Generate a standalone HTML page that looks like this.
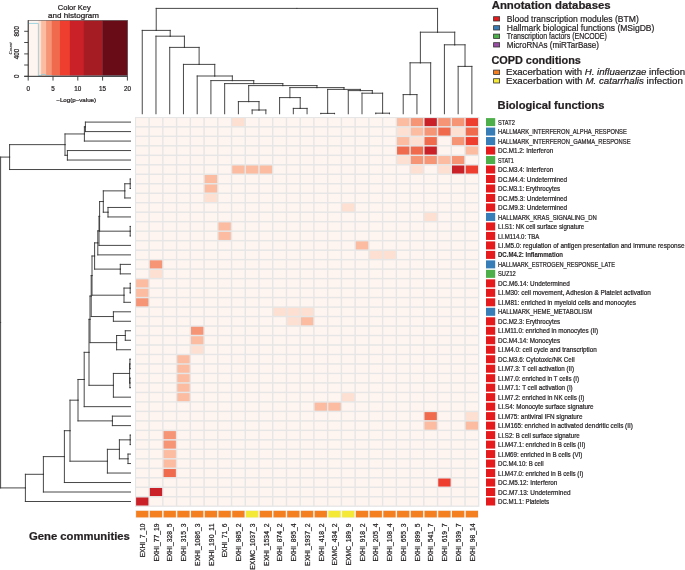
<!DOCTYPE html>
<html><head><meta charset="utf-8"><title>Heatmap</title>
<style>
html,body{margin:0;padding:0;background:#fff;}
svg{display:block;will-change:transform;}
text{font-family:"Liberation Sans", sans-serif;stroke:#231F20;stroke-width:0.22px;paint-order:stroke;}
</style></head>
<body>
<svg width="685" height="570" viewBox="0 0 685 570" font-family='"Liberation Sans", sans-serif'>
<rect width="685" height="570" fill="#fff"/>
<rect x="28.20" y="20.3" width="10.47" height="56.00" fill="#FFF5F0"/>
<rect x="38.37" y="20.3" width="3.03" height="56.00" fill="#FDE0D2"/>
<rect x="41.10" y="20.3" width="5.26" height="56.00" fill="#FBBCA2"/>
<rect x="46.06" y="20.3" width="6.00" height="56.00" fill="#F69476"/>
<rect x="51.76" y="20.3" width="8.48" height="56.00" fill="#F06B4D"/>
<rect x="59.94" y="20.3" width="10.22" height="56.00" fill="#EE3E2F"/>
<rect x="69.86" y="20.3" width="14.19" height="56.00" fill="#CA2027"/>
<rect x="83.75" y="20.3" width="18.75" height="56.00" fill="#A51D23"/>
<rect x="102.20" y="20.3" width="25.50" height="56.00" fill="#6A0C17"/>
<rect x="28.2" y="20.3" width="99.20" height="56.00" fill="none" stroke="#555" stroke-width="0.6"/>
<polyline points="28.50,23.4 38.37,23.4 38.37,75.6 41.59,75.6 41.59,74.4 45.56,74.4 45.56,75.6 51.02,75.6 51.02,76.0 127.40,76.0" fill="none" stroke="#8DCEDC" stroke-width="0.85"/>
<line x1="28.2" y1="20.3" x2="28.2" y2="76.3" stroke="#333333" stroke-width="0.9"/>
<line x1="24.2" y1="76.3" x2="127.4" y2="76.3" stroke="#333333" stroke-width="0.9"/>
<line x1="24.2" y1="76.3" x2="28.2" y2="76.3" stroke="#333333" stroke-width="0.9"/>
<line x1="24.2" y1="65.0" x2="28.2" y2="65.0" stroke="#333333" stroke-width="0.9"/>
<line x1="24.2" y1="53.9" x2="28.2" y2="53.9" stroke="#333333" stroke-width="0.9"/>
<line x1="24.2" y1="42.5" x2="28.2" y2="42.5" stroke="#333333" stroke-width="0.9"/>
<line x1="24.2" y1="31.3" x2="28.2" y2="31.3" stroke="#333333" stroke-width="0.9"/>
<line x1="28.20" y1="76.3" x2="28.20" y2="80.6" stroke="#333333" stroke-width="0.9"/>
<text x="28.20" y="91" font-size="6.3" text-anchor="middle" fill="#231F20">0</text>
<line x1="53.00" y1="76.3" x2="53.00" y2="80.6" stroke="#333333" stroke-width="0.9"/>
<text x="53.00" y="91" font-size="6.3" text-anchor="middle" fill="#231F20">5</text>
<line x1="77.80" y1="76.3" x2="77.80" y2="80.6" stroke="#333333" stroke-width="0.9"/>
<text x="77.80" y="91" font-size="6.3" text-anchor="middle" fill="#231F20">10</text>
<line x1="102.60" y1="76.3" x2="102.60" y2="80.6" stroke="#333333" stroke-width="0.9"/>
<text x="102.60" y="91" font-size="6.3" text-anchor="middle" fill="#231F20">15</text>
<line x1="127.40" y1="76.3" x2="127.40" y2="80.6" stroke="#333333" stroke-width="0.9"/>
<text x="127.40" y="91" font-size="6.3" text-anchor="middle" fill="#231F20">20</text>
<text transform="translate(19.0,76.3) rotate(-90)" font-size="6.3" text-anchor="middle" fill="#231F20">0</text>
<text transform="translate(19.0,53.9) rotate(-90)" font-size="6.3" text-anchor="middle" fill="#231F20">400</text>
<text transform="translate(19.0,31.3) rotate(-90)" font-size="6.3" text-anchor="middle" fill="#231F20">800</text>
<text transform="translate(11.7,48.4) rotate(-90)" font-size="4.3" font-style="italic" text-anchor="middle" fill="#231F20" style="stroke-width:0.1px" textLength="12" lengthAdjust="spacingAndGlyphs">Count</text>
<text x="74.3" y="10.3" font-size="6.6" text-anchor="middle" fill="#231F20" textLength="33" lengthAdjust="spacingAndGlyphs">Color Key</text>
<text x="73.5" y="17.5" font-size="6.6" text-anchor="middle" fill="#231F20" textLength="51" lengthAdjust="spacingAndGlyphs">and histogram</text>
<text x="76.2" y="101.7" font-size="5.8" text-anchor="middle" fill="#231F20" textLength="39.8" lengthAdjust="spacingAndGlyphs">−Log(p−value)</text>
<rect x="135.0" y="117.0" width="344.38" height="389.88" fill="#E6E6E6"/>
<rect x="136.10" y="118.10" width="12.3" height="8.0" fill="#FFF5F0"/>
<rect x="149.83" y="118.10" width="12.3" height="8.0" fill="#FFF5F0"/>
<rect x="163.57" y="118.10" width="12.3" height="8.0" fill="#FFF5F0"/>
<rect x="177.31" y="118.10" width="12.3" height="8.0" fill="#FFF5F0"/>
<rect x="191.04" y="118.10" width="12.3" height="8.0" fill="#FFF5F0"/>
<rect x="204.77" y="118.10" width="12.3" height="8.0" fill="#FFF5F0"/>
<rect x="218.51" y="118.10" width="12.3" height="8.0" fill="#FFF5F0"/>
<rect x="232.25" y="118.10" width="12.3" height="8.0" fill="#FDE0D2"/>
<rect x="245.98" y="118.10" width="12.3" height="8.0" fill="#FFF5F0"/>
<rect x="259.71" y="118.10" width="12.3" height="8.0" fill="#FFF5F0"/>
<rect x="273.45" y="118.10" width="12.3" height="8.0" fill="#FFF5F0"/>
<rect x="287.18" y="118.10" width="12.3" height="8.0" fill="#FFF5F0"/>
<rect x="300.92" y="118.10" width="12.3" height="8.0" fill="#FFF5F0"/>
<rect x="314.65" y="118.10" width="12.3" height="8.0" fill="#FFF5F0"/>
<rect x="328.39" y="118.10" width="12.3" height="8.0" fill="#FFF5F0"/>
<rect x="342.12" y="118.10" width="12.3" height="8.0" fill="#FFF5F0"/>
<rect x="355.86" y="118.10" width="12.3" height="8.0" fill="#FFF5F0"/>
<rect x="369.60" y="118.10" width="12.3" height="8.0" fill="#FFF5F0"/>
<rect x="383.33" y="118.10" width="12.3" height="8.0" fill="#FFF5F0"/>
<rect x="397.06" y="118.10" width="12.3" height="8.0" fill="#FBBCA2"/>
<rect x="410.80" y="118.10" width="12.3" height="8.0" fill="#F69476"/>
<rect x="424.53" y="118.10" width="12.3" height="8.0" fill="#CA2027"/>
<rect x="438.27" y="118.10" width="12.3" height="8.0" fill="#F69476"/>
<rect x="452.00" y="118.10" width="12.3" height="8.0" fill="#F69476"/>
<rect x="465.74" y="118.10" width="12.3" height="8.0" fill="#EE3E2F"/>
<rect x="136.10" y="127.58" width="12.3" height="8.0" fill="#FFF5F0"/>
<rect x="149.83" y="127.58" width="12.3" height="8.0" fill="#FFF5F0"/>
<rect x="163.57" y="127.58" width="12.3" height="8.0" fill="#FFF5F0"/>
<rect x="177.31" y="127.58" width="12.3" height="8.0" fill="#FFF5F0"/>
<rect x="191.04" y="127.58" width="12.3" height="8.0" fill="#FFF5F0"/>
<rect x="204.77" y="127.58" width="12.3" height="8.0" fill="#FFF5F0"/>
<rect x="218.51" y="127.58" width="12.3" height="8.0" fill="#FFF5F0"/>
<rect x="232.25" y="127.58" width="12.3" height="8.0" fill="#FFF5F0"/>
<rect x="245.98" y="127.58" width="12.3" height="8.0" fill="#FFF5F0"/>
<rect x="259.71" y="127.58" width="12.3" height="8.0" fill="#FFF5F0"/>
<rect x="273.45" y="127.58" width="12.3" height="8.0" fill="#FFF5F0"/>
<rect x="287.18" y="127.58" width="12.3" height="8.0" fill="#FFF5F0"/>
<rect x="300.92" y="127.58" width="12.3" height="8.0" fill="#FFF5F0"/>
<rect x="314.65" y="127.58" width="12.3" height="8.0" fill="#FFF5F0"/>
<rect x="328.39" y="127.58" width="12.3" height="8.0" fill="#FFF5F0"/>
<rect x="342.12" y="127.58" width="12.3" height="8.0" fill="#FFF5F0"/>
<rect x="355.86" y="127.58" width="12.3" height="8.0" fill="#FFF5F0"/>
<rect x="369.60" y="127.58" width="12.3" height="8.0" fill="#FFF5F0"/>
<rect x="383.33" y="127.58" width="12.3" height="8.0" fill="#FFF5F0"/>
<rect x="397.06" y="127.58" width="12.3" height="8.0" fill="#FDE0D2"/>
<rect x="410.80" y="127.58" width="12.3" height="8.0" fill="#FBBCA2"/>
<rect x="424.53" y="127.58" width="12.3" height="8.0" fill="#F69476"/>
<rect x="438.27" y="127.58" width="12.3" height="8.0" fill="#F06B4D"/>
<rect x="452.00" y="127.58" width="12.3" height="8.0" fill="#FDE0D2"/>
<rect x="465.74" y="127.58" width="12.3" height="8.0" fill="#F06B4D"/>
<rect x="136.10" y="137.07" width="12.3" height="8.0" fill="#FFF5F0"/>
<rect x="149.83" y="137.07" width="12.3" height="8.0" fill="#FFF5F0"/>
<rect x="163.57" y="137.07" width="12.3" height="8.0" fill="#FFF5F0"/>
<rect x="177.31" y="137.07" width="12.3" height="8.0" fill="#FFF5F0"/>
<rect x="191.04" y="137.07" width="12.3" height="8.0" fill="#FFF5F0"/>
<rect x="204.77" y="137.07" width="12.3" height="8.0" fill="#FFF5F0"/>
<rect x="218.51" y="137.07" width="12.3" height="8.0" fill="#FFF5F0"/>
<rect x="232.25" y="137.07" width="12.3" height="8.0" fill="#FFF5F0"/>
<rect x="245.98" y="137.07" width="12.3" height="8.0" fill="#FFF5F0"/>
<rect x="259.71" y="137.07" width="12.3" height="8.0" fill="#FFF5F0"/>
<rect x="273.45" y="137.07" width="12.3" height="8.0" fill="#FFF5F0"/>
<rect x="287.18" y="137.07" width="12.3" height="8.0" fill="#FFF5F0"/>
<rect x="300.92" y="137.07" width="12.3" height="8.0" fill="#FFF5F0"/>
<rect x="314.65" y="137.07" width="12.3" height="8.0" fill="#FFF5F0"/>
<rect x="328.39" y="137.07" width="12.3" height="8.0" fill="#FFF5F0"/>
<rect x="342.12" y="137.07" width="12.3" height="8.0" fill="#FFF5F0"/>
<rect x="355.86" y="137.07" width="12.3" height="8.0" fill="#FFF5F0"/>
<rect x="369.60" y="137.07" width="12.3" height="8.0" fill="#FFF5F0"/>
<rect x="383.33" y="137.07" width="12.3" height="8.0" fill="#FFF5F0"/>
<rect x="397.06" y="137.07" width="12.3" height="8.0" fill="#FBBCA2"/>
<rect x="410.80" y="137.07" width="12.3" height="8.0" fill="#FDE0D2"/>
<rect x="424.53" y="137.07" width="12.3" height="8.0" fill="#F06B4D"/>
<rect x="438.27" y="137.07" width="12.3" height="8.0" fill="#FFF5F0"/>
<rect x="452.00" y="137.07" width="12.3" height="8.0" fill="#F69476"/>
<rect x="465.74" y="137.07" width="12.3" height="8.0" fill="#EE3E2F"/>
<rect x="136.10" y="146.56" width="12.3" height="8.0" fill="#FFF5F0"/>
<rect x="149.83" y="146.56" width="12.3" height="8.0" fill="#FFF5F0"/>
<rect x="163.57" y="146.56" width="12.3" height="8.0" fill="#FFF5F0"/>
<rect x="177.31" y="146.56" width="12.3" height="8.0" fill="#FFF5F0"/>
<rect x="191.04" y="146.56" width="12.3" height="8.0" fill="#FFF5F0"/>
<rect x="204.77" y="146.56" width="12.3" height="8.0" fill="#FFF5F0"/>
<rect x="218.51" y="146.56" width="12.3" height="8.0" fill="#FFF5F0"/>
<rect x="232.25" y="146.56" width="12.3" height="8.0" fill="#FFF5F0"/>
<rect x="245.98" y="146.56" width="12.3" height="8.0" fill="#FFF5F0"/>
<rect x="259.71" y="146.56" width="12.3" height="8.0" fill="#FFF5F0"/>
<rect x="273.45" y="146.56" width="12.3" height="8.0" fill="#FFF5F0"/>
<rect x="287.18" y="146.56" width="12.3" height="8.0" fill="#FFF5F0"/>
<rect x="300.92" y="146.56" width="12.3" height="8.0" fill="#FFF5F0"/>
<rect x="314.65" y="146.56" width="12.3" height="8.0" fill="#FFF5F0"/>
<rect x="328.39" y="146.56" width="12.3" height="8.0" fill="#FFF5F0"/>
<rect x="342.12" y="146.56" width="12.3" height="8.0" fill="#FFF5F0"/>
<rect x="355.86" y="146.56" width="12.3" height="8.0" fill="#FFF5F0"/>
<rect x="369.60" y="146.56" width="12.3" height="8.0" fill="#FFF5F0"/>
<rect x="383.33" y="146.56" width="12.3" height="8.0" fill="#FFF5F0"/>
<rect x="397.06" y="146.56" width="12.3" height="8.0" fill="#F06B4D"/>
<rect x="410.80" y="146.56" width="12.3" height="8.0" fill="#F06B4D"/>
<rect x="424.53" y="146.56" width="12.3" height="8.0" fill="#CA2027"/>
<rect x="438.27" y="146.56" width="12.3" height="8.0" fill="#FFF5F0"/>
<rect x="452.00" y="146.56" width="12.3" height="8.0" fill="#FFF5F0"/>
<rect x="465.74" y="146.56" width="12.3" height="8.0" fill="#FBBCA2"/>
<rect x="136.10" y="156.04" width="12.3" height="8.0" fill="#FFF5F0"/>
<rect x="149.83" y="156.04" width="12.3" height="8.0" fill="#FFF5F0"/>
<rect x="163.57" y="156.04" width="12.3" height="8.0" fill="#FFF5F0"/>
<rect x="177.31" y="156.04" width="12.3" height="8.0" fill="#FFF5F0"/>
<rect x="191.04" y="156.04" width="12.3" height="8.0" fill="#FFF5F0"/>
<rect x="204.77" y="156.04" width="12.3" height="8.0" fill="#FFF5F0"/>
<rect x="218.51" y="156.04" width="12.3" height="8.0" fill="#FFF5F0"/>
<rect x="232.25" y="156.04" width="12.3" height="8.0" fill="#FFF5F0"/>
<rect x="245.98" y="156.04" width="12.3" height="8.0" fill="#FFF5F0"/>
<rect x="259.71" y="156.04" width="12.3" height="8.0" fill="#FFF5F0"/>
<rect x="273.45" y="156.04" width="12.3" height="8.0" fill="#FFF5F0"/>
<rect x="287.18" y="156.04" width="12.3" height="8.0" fill="#FFF5F0"/>
<rect x="300.92" y="156.04" width="12.3" height="8.0" fill="#FFF5F0"/>
<rect x="314.65" y="156.04" width="12.3" height="8.0" fill="#FFF5F0"/>
<rect x="328.39" y="156.04" width="12.3" height="8.0" fill="#FFF5F0"/>
<rect x="342.12" y="156.04" width="12.3" height="8.0" fill="#FFF5F0"/>
<rect x="355.86" y="156.04" width="12.3" height="8.0" fill="#FFF5F0"/>
<rect x="369.60" y="156.04" width="12.3" height="8.0" fill="#FFF5F0"/>
<rect x="383.33" y="156.04" width="12.3" height="8.0" fill="#FFF5F0"/>
<rect x="397.06" y="156.04" width="12.3" height="8.0" fill="#FDE0D2"/>
<rect x="410.80" y="156.04" width="12.3" height="8.0" fill="#F69476"/>
<rect x="424.53" y="156.04" width="12.3" height="8.0" fill="#F69476"/>
<rect x="438.27" y="156.04" width="12.3" height="8.0" fill="#FBBCA2"/>
<rect x="452.00" y="156.04" width="12.3" height="8.0" fill="#F69476"/>
<rect x="465.74" y="156.04" width="12.3" height="8.0" fill="#FFF5F0"/>
<rect x="136.10" y="165.52" width="12.3" height="8.0" fill="#FFF5F0"/>
<rect x="149.83" y="165.52" width="12.3" height="8.0" fill="#FFF5F0"/>
<rect x="163.57" y="165.52" width="12.3" height="8.0" fill="#FFF5F0"/>
<rect x="177.31" y="165.52" width="12.3" height="8.0" fill="#FFF5F0"/>
<rect x="191.04" y="165.52" width="12.3" height="8.0" fill="#FFF5F0"/>
<rect x="204.77" y="165.52" width="12.3" height="8.0" fill="#FFF5F0"/>
<rect x="218.51" y="165.52" width="12.3" height="8.0" fill="#FFF5F0"/>
<rect x="232.25" y="165.52" width="12.3" height="8.0" fill="#FBBCA2"/>
<rect x="245.98" y="165.52" width="12.3" height="8.0" fill="#FBBCA2"/>
<rect x="259.71" y="165.52" width="12.3" height="8.0" fill="#FBBCA2"/>
<rect x="273.45" y="165.52" width="12.3" height="8.0" fill="#FFF5F0"/>
<rect x="287.18" y="165.52" width="12.3" height="8.0" fill="#FFF5F0"/>
<rect x="300.92" y="165.52" width="12.3" height="8.0" fill="#FFF5F0"/>
<rect x="314.65" y="165.52" width="12.3" height="8.0" fill="#FFF5F0"/>
<rect x="328.39" y="165.52" width="12.3" height="8.0" fill="#FFF5F0"/>
<rect x="342.12" y="165.52" width="12.3" height="8.0" fill="#FFF5F0"/>
<rect x="355.86" y="165.52" width="12.3" height="8.0" fill="#FFF5F0"/>
<rect x="369.60" y="165.52" width="12.3" height="8.0" fill="#FFF5F0"/>
<rect x="383.33" y="165.52" width="12.3" height="8.0" fill="#FFF5F0"/>
<rect x="397.06" y="165.52" width="12.3" height="8.0" fill="#FFF5F0"/>
<rect x="410.80" y="165.52" width="12.3" height="8.0" fill="#FDE0D2"/>
<rect x="424.53" y="165.52" width="12.3" height="8.0" fill="#FFF5F0"/>
<rect x="438.27" y="165.52" width="12.3" height="8.0" fill="#FDE0D2"/>
<rect x="452.00" y="165.52" width="12.3" height="8.0" fill="#CA2027"/>
<rect x="465.74" y="165.52" width="12.3" height="8.0" fill="#EE3E2F"/>
<rect x="136.10" y="175.01" width="12.3" height="8.0" fill="#FFF5F0"/>
<rect x="149.83" y="175.01" width="12.3" height="8.0" fill="#FFF5F0"/>
<rect x="163.57" y="175.01" width="12.3" height="8.0" fill="#FFF5F0"/>
<rect x="177.31" y="175.01" width="12.3" height="8.0" fill="#FFF5F0"/>
<rect x="191.04" y="175.01" width="12.3" height="8.0" fill="#FFF5F0"/>
<rect x="204.77" y="175.01" width="12.3" height="8.0" fill="#FBBCA2"/>
<rect x="218.51" y="175.01" width="12.3" height="8.0" fill="#FFF5F0"/>
<rect x="232.25" y="175.01" width="12.3" height="8.0" fill="#FFF5F0"/>
<rect x="245.98" y="175.01" width="12.3" height="8.0" fill="#FFF5F0"/>
<rect x="259.71" y="175.01" width="12.3" height="8.0" fill="#FFF5F0"/>
<rect x="273.45" y="175.01" width="12.3" height="8.0" fill="#FFF5F0"/>
<rect x="287.18" y="175.01" width="12.3" height="8.0" fill="#FFF5F0"/>
<rect x="300.92" y="175.01" width="12.3" height="8.0" fill="#FFF5F0"/>
<rect x="314.65" y="175.01" width="12.3" height="8.0" fill="#FFF5F0"/>
<rect x="328.39" y="175.01" width="12.3" height="8.0" fill="#FFF5F0"/>
<rect x="342.12" y="175.01" width="12.3" height="8.0" fill="#FFF5F0"/>
<rect x="355.86" y="175.01" width="12.3" height="8.0" fill="#FFF5F0"/>
<rect x="369.60" y="175.01" width="12.3" height="8.0" fill="#FFF5F0"/>
<rect x="383.33" y="175.01" width="12.3" height="8.0" fill="#FFF5F0"/>
<rect x="397.06" y="175.01" width="12.3" height="8.0" fill="#FFF5F0"/>
<rect x="410.80" y="175.01" width="12.3" height="8.0" fill="#FFF5F0"/>
<rect x="424.53" y="175.01" width="12.3" height="8.0" fill="#FFF5F0"/>
<rect x="438.27" y="175.01" width="12.3" height="8.0" fill="#FFF5F0"/>
<rect x="452.00" y="175.01" width="12.3" height="8.0" fill="#FFF5F0"/>
<rect x="465.74" y="175.01" width="12.3" height="8.0" fill="#FFF5F0"/>
<rect x="136.10" y="184.50" width="12.3" height="8.0" fill="#FFF5F0"/>
<rect x="149.83" y="184.50" width="12.3" height="8.0" fill="#FFF5F0"/>
<rect x="163.57" y="184.50" width="12.3" height="8.0" fill="#FFF5F0"/>
<rect x="177.31" y="184.50" width="12.3" height="8.0" fill="#FFF5F0"/>
<rect x="191.04" y="184.50" width="12.3" height="8.0" fill="#FFF5F0"/>
<rect x="204.77" y="184.50" width="12.3" height="8.0" fill="#FBBCA2"/>
<rect x="218.51" y="184.50" width="12.3" height="8.0" fill="#FFF5F0"/>
<rect x="232.25" y="184.50" width="12.3" height="8.0" fill="#FFF5F0"/>
<rect x="245.98" y="184.50" width="12.3" height="8.0" fill="#FFF5F0"/>
<rect x="259.71" y="184.50" width="12.3" height="8.0" fill="#FFF5F0"/>
<rect x="273.45" y="184.50" width="12.3" height="8.0" fill="#FFF5F0"/>
<rect x="287.18" y="184.50" width="12.3" height="8.0" fill="#FFF5F0"/>
<rect x="300.92" y="184.50" width="12.3" height="8.0" fill="#FFF5F0"/>
<rect x="314.65" y="184.50" width="12.3" height="8.0" fill="#FFF5F0"/>
<rect x="328.39" y="184.50" width="12.3" height="8.0" fill="#FFF5F0"/>
<rect x="342.12" y="184.50" width="12.3" height="8.0" fill="#FFF5F0"/>
<rect x="355.86" y="184.50" width="12.3" height="8.0" fill="#FFF5F0"/>
<rect x="369.60" y="184.50" width="12.3" height="8.0" fill="#FFF5F0"/>
<rect x="383.33" y="184.50" width="12.3" height="8.0" fill="#FFF5F0"/>
<rect x="397.06" y="184.50" width="12.3" height="8.0" fill="#FFF5F0"/>
<rect x="410.80" y="184.50" width="12.3" height="8.0" fill="#FFF5F0"/>
<rect x="424.53" y="184.50" width="12.3" height="8.0" fill="#FFF5F0"/>
<rect x="438.27" y="184.50" width="12.3" height="8.0" fill="#FFF5F0"/>
<rect x="452.00" y="184.50" width="12.3" height="8.0" fill="#FFF5F0"/>
<rect x="465.74" y="184.50" width="12.3" height="8.0" fill="#FFF5F0"/>
<rect x="136.10" y="193.98" width="12.3" height="8.0" fill="#FFF5F0"/>
<rect x="149.83" y="193.98" width="12.3" height="8.0" fill="#FFF5F0"/>
<rect x="163.57" y="193.98" width="12.3" height="8.0" fill="#FFF5F0"/>
<rect x="177.31" y="193.98" width="12.3" height="8.0" fill="#FFF5F0"/>
<rect x="191.04" y="193.98" width="12.3" height="8.0" fill="#FFF5F0"/>
<rect x="204.77" y="193.98" width="12.3" height="8.0" fill="#FDE0D2"/>
<rect x="218.51" y="193.98" width="12.3" height="8.0" fill="#FFF5F0"/>
<rect x="232.25" y="193.98" width="12.3" height="8.0" fill="#FFF5F0"/>
<rect x="245.98" y="193.98" width="12.3" height="8.0" fill="#FFF5F0"/>
<rect x="259.71" y="193.98" width="12.3" height="8.0" fill="#FFF5F0"/>
<rect x="273.45" y="193.98" width="12.3" height="8.0" fill="#FFF5F0"/>
<rect x="287.18" y="193.98" width="12.3" height="8.0" fill="#FFF5F0"/>
<rect x="300.92" y="193.98" width="12.3" height="8.0" fill="#FFF5F0"/>
<rect x="314.65" y="193.98" width="12.3" height="8.0" fill="#FFF5F0"/>
<rect x="328.39" y="193.98" width="12.3" height="8.0" fill="#FFF5F0"/>
<rect x="342.12" y="193.98" width="12.3" height="8.0" fill="#FFF5F0"/>
<rect x="355.86" y="193.98" width="12.3" height="8.0" fill="#FFF5F0"/>
<rect x="369.60" y="193.98" width="12.3" height="8.0" fill="#FFF5F0"/>
<rect x="383.33" y="193.98" width="12.3" height="8.0" fill="#FFF5F0"/>
<rect x="397.06" y="193.98" width="12.3" height="8.0" fill="#FFF5F0"/>
<rect x="410.80" y="193.98" width="12.3" height="8.0" fill="#FFF5F0"/>
<rect x="424.53" y="193.98" width="12.3" height="8.0" fill="#FFF5F0"/>
<rect x="438.27" y="193.98" width="12.3" height="8.0" fill="#FFF5F0"/>
<rect x="452.00" y="193.98" width="12.3" height="8.0" fill="#FFF5F0"/>
<rect x="465.74" y="193.98" width="12.3" height="8.0" fill="#FFF5F0"/>
<rect x="136.10" y="203.46" width="12.3" height="8.0" fill="#FFF5F0"/>
<rect x="149.83" y="203.46" width="12.3" height="8.0" fill="#FFF5F0"/>
<rect x="163.57" y="203.46" width="12.3" height="8.0" fill="#FFF5F0"/>
<rect x="177.31" y="203.46" width="12.3" height="8.0" fill="#FFF5F0"/>
<rect x="191.04" y="203.46" width="12.3" height="8.0" fill="#FFF5F0"/>
<rect x="204.77" y="203.46" width="12.3" height="8.0" fill="#FFF5F0"/>
<rect x="218.51" y="203.46" width="12.3" height="8.0" fill="#FFF5F0"/>
<rect x="232.25" y="203.46" width="12.3" height="8.0" fill="#FFF5F0"/>
<rect x="245.98" y="203.46" width="12.3" height="8.0" fill="#FFF5F0"/>
<rect x="259.71" y="203.46" width="12.3" height="8.0" fill="#FFF5F0"/>
<rect x="273.45" y="203.46" width="12.3" height="8.0" fill="#FFF5F0"/>
<rect x="287.18" y="203.46" width="12.3" height="8.0" fill="#FFF5F0"/>
<rect x="300.92" y="203.46" width="12.3" height="8.0" fill="#FFF5F0"/>
<rect x="314.65" y="203.46" width="12.3" height="8.0" fill="#FFF5F0"/>
<rect x="328.39" y="203.46" width="12.3" height="8.0" fill="#FFF5F0"/>
<rect x="342.12" y="203.46" width="12.3" height="8.0" fill="#FDE0D2"/>
<rect x="355.86" y="203.46" width="12.3" height="8.0" fill="#FFF5F0"/>
<rect x="369.60" y="203.46" width="12.3" height="8.0" fill="#FFF5F0"/>
<rect x="383.33" y="203.46" width="12.3" height="8.0" fill="#FFF5F0"/>
<rect x="397.06" y="203.46" width="12.3" height="8.0" fill="#FFF5F0"/>
<rect x="410.80" y="203.46" width="12.3" height="8.0" fill="#FFF5F0"/>
<rect x="424.53" y="203.46" width="12.3" height="8.0" fill="#FFF5F0"/>
<rect x="438.27" y="203.46" width="12.3" height="8.0" fill="#FFF5F0"/>
<rect x="452.00" y="203.46" width="12.3" height="8.0" fill="#FFF5F0"/>
<rect x="465.74" y="203.46" width="12.3" height="8.0" fill="#FFF5F0"/>
<rect x="136.10" y="212.95" width="12.3" height="8.0" fill="#FFF5F0"/>
<rect x="149.83" y="212.95" width="12.3" height="8.0" fill="#FFF5F0"/>
<rect x="163.57" y="212.95" width="12.3" height="8.0" fill="#FFF5F0"/>
<rect x="177.31" y="212.95" width="12.3" height="8.0" fill="#FFF5F0"/>
<rect x="191.04" y="212.95" width="12.3" height="8.0" fill="#FFF5F0"/>
<rect x="204.77" y="212.95" width="12.3" height="8.0" fill="#FFF5F0"/>
<rect x="218.51" y="212.95" width="12.3" height="8.0" fill="#FFF5F0"/>
<rect x="232.25" y="212.95" width="12.3" height="8.0" fill="#FFF5F0"/>
<rect x="245.98" y="212.95" width="12.3" height="8.0" fill="#FFF5F0"/>
<rect x="259.71" y="212.95" width="12.3" height="8.0" fill="#FFF5F0"/>
<rect x="273.45" y="212.95" width="12.3" height="8.0" fill="#FFF5F0"/>
<rect x="287.18" y="212.95" width="12.3" height="8.0" fill="#FFF5F0"/>
<rect x="300.92" y="212.95" width="12.3" height="8.0" fill="#FFF5F0"/>
<rect x="314.65" y="212.95" width="12.3" height="8.0" fill="#FFF5F0"/>
<rect x="328.39" y="212.95" width="12.3" height="8.0" fill="#FFF5F0"/>
<rect x="342.12" y="212.95" width="12.3" height="8.0" fill="#FFF5F0"/>
<rect x="355.86" y="212.95" width="12.3" height="8.0" fill="#FFF5F0"/>
<rect x="369.60" y="212.95" width="12.3" height="8.0" fill="#FFF5F0"/>
<rect x="383.33" y="212.95" width="12.3" height="8.0" fill="#FFF5F0"/>
<rect x="397.06" y="212.95" width="12.3" height="8.0" fill="#FFF5F0"/>
<rect x="410.80" y="212.95" width="12.3" height="8.0" fill="#FFF5F0"/>
<rect x="424.53" y="212.95" width="12.3" height="8.0" fill="#FDE0D2"/>
<rect x="438.27" y="212.95" width="12.3" height="8.0" fill="#FFF5F0"/>
<rect x="452.00" y="212.95" width="12.3" height="8.0" fill="#FFF5F0"/>
<rect x="465.74" y="212.95" width="12.3" height="8.0" fill="#FFF5F0"/>
<rect x="136.10" y="222.44" width="12.3" height="8.0" fill="#FFF5F0"/>
<rect x="149.83" y="222.44" width="12.3" height="8.0" fill="#FFF5F0"/>
<rect x="163.57" y="222.44" width="12.3" height="8.0" fill="#FFF5F0"/>
<rect x="177.31" y="222.44" width="12.3" height="8.0" fill="#FFF5F0"/>
<rect x="191.04" y="222.44" width="12.3" height="8.0" fill="#FFF5F0"/>
<rect x="204.77" y="222.44" width="12.3" height="8.0" fill="#FFF5F0"/>
<rect x="218.51" y="222.44" width="12.3" height="8.0" fill="#FBBCA2"/>
<rect x="232.25" y="222.44" width="12.3" height="8.0" fill="#FFF5F0"/>
<rect x="245.98" y="222.44" width="12.3" height="8.0" fill="#FFF5F0"/>
<rect x="259.71" y="222.44" width="12.3" height="8.0" fill="#FFF5F0"/>
<rect x="273.45" y="222.44" width="12.3" height="8.0" fill="#FFF5F0"/>
<rect x="287.18" y="222.44" width="12.3" height="8.0" fill="#FFF5F0"/>
<rect x="300.92" y="222.44" width="12.3" height="8.0" fill="#FFF5F0"/>
<rect x="314.65" y="222.44" width="12.3" height="8.0" fill="#FFF5F0"/>
<rect x="328.39" y="222.44" width="12.3" height="8.0" fill="#FFF5F0"/>
<rect x="342.12" y="222.44" width="12.3" height="8.0" fill="#FFF5F0"/>
<rect x="355.86" y="222.44" width="12.3" height="8.0" fill="#FFF5F0"/>
<rect x="369.60" y="222.44" width="12.3" height="8.0" fill="#FFF5F0"/>
<rect x="383.33" y="222.44" width="12.3" height="8.0" fill="#FFF5F0"/>
<rect x="397.06" y="222.44" width="12.3" height="8.0" fill="#FFF5F0"/>
<rect x="410.80" y="222.44" width="12.3" height="8.0" fill="#FFF5F0"/>
<rect x="424.53" y="222.44" width="12.3" height="8.0" fill="#FFF5F0"/>
<rect x="438.27" y="222.44" width="12.3" height="8.0" fill="#FFF5F0"/>
<rect x="452.00" y="222.44" width="12.3" height="8.0" fill="#FFF5F0"/>
<rect x="465.74" y="222.44" width="12.3" height="8.0" fill="#FFF5F0"/>
<rect x="136.10" y="231.92" width="12.3" height="8.0" fill="#FFF5F0"/>
<rect x="149.83" y="231.92" width="12.3" height="8.0" fill="#FFF5F0"/>
<rect x="163.57" y="231.92" width="12.3" height="8.0" fill="#FFF5F0"/>
<rect x="177.31" y="231.92" width="12.3" height="8.0" fill="#FFF5F0"/>
<rect x="191.04" y="231.92" width="12.3" height="8.0" fill="#FFF5F0"/>
<rect x="204.77" y="231.92" width="12.3" height="8.0" fill="#FFF5F0"/>
<rect x="218.51" y="231.92" width="12.3" height="8.0" fill="#FBBCA2"/>
<rect x="232.25" y="231.92" width="12.3" height="8.0" fill="#FFF5F0"/>
<rect x="245.98" y="231.92" width="12.3" height="8.0" fill="#FFF5F0"/>
<rect x="259.71" y="231.92" width="12.3" height="8.0" fill="#FFF5F0"/>
<rect x="273.45" y="231.92" width="12.3" height="8.0" fill="#FFF5F0"/>
<rect x="287.18" y="231.92" width="12.3" height="8.0" fill="#FFF5F0"/>
<rect x="300.92" y="231.92" width="12.3" height="8.0" fill="#FFF5F0"/>
<rect x="314.65" y="231.92" width="12.3" height="8.0" fill="#FFF5F0"/>
<rect x="328.39" y="231.92" width="12.3" height="8.0" fill="#FFF5F0"/>
<rect x="342.12" y="231.92" width="12.3" height="8.0" fill="#FFF5F0"/>
<rect x="355.86" y="231.92" width="12.3" height="8.0" fill="#FFF5F0"/>
<rect x="369.60" y="231.92" width="12.3" height="8.0" fill="#FFF5F0"/>
<rect x="383.33" y="231.92" width="12.3" height="8.0" fill="#FFF5F0"/>
<rect x="397.06" y="231.92" width="12.3" height="8.0" fill="#FFF5F0"/>
<rect x="410.80" y="231.92" width="12.3" height="8.0" fill="#FFF5F0"/>
<rect x="424.53" y="231.92" width="12.3" height="8.0" fill="#FFF5F0"/>
<rect x="438.27" y="231.92" width="12.3" height="8.0" fill="#FFF5F0"/>
<rect x="452.00" y="231.92" width="12.3" height="8.0" fill="#FFF5F0"/>
<rect x="465.74" y="231.92" width="12.3" height="8.0" fill="#FFF5F0"/>
<rect x="136.10" y="241.40" width="12.3" height="8.0" fill="#FFF5F0"/>
<rect x="149.83" y="241.40" width="12.3" height="8.0" fill="#FFF5F0"/>
<rect x="163.57" y="241.40" width="12.3" height="8.0" fill="#FFF5F0"/>
<rect x="177.31" y="241.40" width="12.3" height="8.0" fill="#FFF5F0"/>
<rect x="191.04" y="241.40" width="12.3" height="8.0" fill="#FFF5F0"/>
<rect x="204.77" y="241.40" width="12.3" height="8.0" fill="#FFF5F0"/>
<rect x="218.51" y="241.40" width="12.3" height="8.0" fill="#FFF5F0"/>
<rect x="232.25" y="241.40" width="12.3" height="8.0" fill="#FFF5F0"/>
<rect x="245.98" y="241.40" width="12.3" height="8.0" fill="#FFF5F0"/>
<rect x="259.71" y="241.40" width="12.3" height="8.0" fill="#FFF5F0"/>
<rect x="273.45" y="241.40" width="12.3" height="8.0" fill="#FFF5F0"/>
<rect x="287.18" y="241.40" width="12.3" height="8.0" fill="#FFF5F0"/>
<rect x="300.92" y="241.40" width="12.3" height="8.0" fill="#FFF5F0"/>
<rect x="314.65" y="241.40" width="12.3" height="8.0" fill="#FFF5F0"/>
<rect x="328.39" y="241.40" width="12.3" height="8.0" fill="#FFF5F0"/>
<rect x="342.12" y="241.40" width="12.3" height="8.0" fill="#FFF5F0"/>
<rect x="355.86" y="241.40" width="12.3" height="8.0" fill="#FBBCA2"/>
<rect x="369.60" y="241.40" width="12.3" height="8.0" fill="#FFF5F0"/>
<rect x="383.33" y="241.40" width="12.3" height="8.0" fill="#FFF5F0"/>
<rect x="397.06" y="241.40" width="12.3" height="8.0" fill="#FFF5F0"/>
<rect x="410.80" y="241.40" width="12.3" height="8.0" fill="#FFF5F0"/>
<rect x="424.53" y="241.40" width="12.3" height="8.0" fill="#FFF5F0"/>
<rect x="438.27" y="241.40" width="12.3" height="8.0" fill="#FFF5F0"/>
<rect x="452.00" y="241.40" width="12.3" height="8.0" fill="#FFF5F0"/>
<rect x="465.74" y="241.40" width="12.3" height="8.0" fill="#FFF5F0"/>
<rect x="136.10" y="250.89" width="12.3" height="8.0" fill="#FFF5F0"/>
<rect x="149.83" y="250.89" width="12.3" height="8.0" fill="#FFF5F0"/>
<rect x="163.57" y="250.89" width="12.3" height="8.0" fill="#FFF5F0"/>
<rect x="177.31" y="250.89" width="12.3" height="8.0" fill="#FFF5F0"/>
<rect x="191.04" y="250.89" width="12.3" height="8.0" fill="#FFF5F0"/>
<rect x="204.77" y="250.89" width="12.3" height="8.0" fill="#FFF5F0"/>
<rect x="218.51" y="250.89" width="12.3" height="8.0" fill="#FFF5F0"/>
<rect x="232.25" y="250.89" width="12.3" height="8.0" fill="#FFF5F0"/>
<rect x="245.98" y="250.89" width="12.3" height="8.0" fill="#FFF5F0"/>
<rect x="259.71" y="250.89" width="12.3" height="8.0" fill="#FFF5F0"/>
<rect x="273.45" y="250.89" width="12.3" height="8.0" fill="#FFF5F0"/>
<rect x="287.18" y="250.89" width="12.3" height="8.0" fill="#FFF5F0"/>
<rect x="300.92" y="250.89" width="12.3" height="8.0" fill="#FFF5F0"/>
<rect x="314.65" y="250.89" width="12.3" height="8.0" fill="#FFF5F0"/>
<rect x="328.39" y="250.89" width="12.3" height="8.0" fill="#FFF5F0"/>
<rect x="342.12" y="250.89" width="12.3" height="8.0" fill="#FFF5F0"/>
<rect x="355.86" y="250.89" width="12.3" height="8.0" fill="#FFF5F0"/>
<rect x="369.60" y="250.89" width="12.3" height="8.0" fill="#FDE0D2"/>
<rect x="383.33" y="250.89" width="12.3" height="8.0" fill="#FDE0D2"/>
<rect x="397.06" y="250.89" width="12.3" height="8.0" fill="#FFF5F0"/>
<rect x="410.80" y="250.89" width="12.3" height="8.0" fill="#FFF5F0"/>
<rect x="424.53" y="250.89" width="12.3" height="8.0" fill="#FFF5F0"/>
<rect x="438.27" y="250.89" width="12.3" height="8.0" fill="#FFF5F0"/>
<rect x="452.00" y="250.89" width="12.3" height="8.0" fill="#FFF5F0"/>
<rect x="465.74" y="250.89" width="12.3" height="8.0" fill="#FFF5F0"/>
<rect x="136.10" y="260.38" width="12.3" height="8.0" fill="#FFF5F0"/>
<rect x="149.83" y="260.38" width="12.3" height="8.0" fill="#F69476"/>
<rect x="163.57" y="260.38" width="12.3" height="8.0" fill="#FFF5F0"/>
<rect x="177.31" y="260.38" width="12.3" height="8.0" fill="#FFF5F0"/>
<rect x="191.04" y="260.38" width="12.3" height="8.0" fill="#FFF5F0"/>
<rect x="204.77" y="260.38" width="12.3" height="8.0" fill="#FFF5F0"/>
<rect x="218.51" y="260.38" width="12.3" height="8.0" fill="#FFF5F0"/>
<rect x="232.25" y="260.38" width="12.3" height="8.0" fill="#FFF5F0"/>
<rect x="245.98" y="260.38" width="12.3" height="8.0" fill="#FFF5F0"/>
<rect x="259.71" y="260.38" width="12.3" height="8.0" fill="#FFF5F0"/>
<rect x="273.45" y="260.38" width="12.3" height="8.0" fill="#FFF5F0"/>
<rect x="287.18" y="260.38" width="12.3" height="8.0" fill="#FFF5F0"/>
<rect x="300.92" y="260.38" width="12.3" height="8.0" fill="#FFF5F0"/>
<rect x="314.65" y="260.38" width="12.3" height="8.0" fill="#FFF5F0"/>
<rect x="328.39" y="260.38" width="12.3" height="8.0" fill="#FFF5F0"/>
<rect x="342.12" y="260.38" width="12.3" height="8.0" fill="#FFF5F0"/>
<rect x="355.86" y="260.38" width="12.3" height="8.0" fill="#FFF5F0"/>
<rect x="369.60" y="260.38" width="12.3" height="8.0" fill="#FFF5F0"/>
<rect x="383.33" y="260.38" width="12.3" height="8.0" fill="#FFF5F0"/>
<rect x="397.06" y="260.38" width="12.3" height="8.0" fill="#FFF5F0"/>
<rect x="410.80" y="260.38" width="12.3" height="8.0" fill="#FFF5F0"/>
<rect x="424.53" y="260.38" width="12.3" height="8.0" fill="#FFF5F0"/>
<rect x="438.27" y="260.38" width="12.3" height="8.0" fill="#FFF5F0"/>
<rect x="452.00" y="260.38" width="12.3" height="8.0" fill="#FFF5F0"/>
<rect x="465.74" y="260.38" width="12.3" height="8.0" fill="#FFF5F0"/>
<rect x="136.10" y="269.86" width="12.3" height="8.0" fill="#FFF5F0"/>
<rect x="149.83" y="269.86" width="12.3" height="8.0" fill="#FDE0D2"/>
<rect x="163.57" y="269.86" width="12.3" height="8.0" fill="#FFF5F0"/>
<rect x="177.31" y="269.86" width="12.3" height="8.0" fill="#FFF5F0"/>
<rect x="191.04" y="269.86" width="12.3" height="8.0" fill="#FFF5F0"/>
<rect x="204.77" y="269.86" width="12.3" height="8.0" fill="#FFF5F0"/>
<rect x="218.51" y="269.86" width="12.3" height="8.0" fill="#FFF5F0"/>
<rect x="232.25" y="269.86" width="12.3" height="8.0" fill="#FFF5F0"/>
<rect x="245.98" y="269.86" width="12.3" height="8.0" fill="#FFF5F0"/>
<rect x="259.71" y="269.86" width="12.3" height="8.0" fill="#FFF5F0"/>
<rect x="273.45" y="269.86" width="12.3" height="8.0" fill="#FFF5F0"/>
<rect x="287.18" y="269.86" width="12.3" height="8.0" fill="#FFF5F0"/>
<rect x="300.92" y="269.86" width="12.3" height="8.0" fill="#FFF5F0"/>
<rect x="314.65" y="269.86" width="12.3" height="8.0" fill="#FFF5F0"/>
<rect x="328.39" y="269.86" width="12.3" height="8.0" fill="#FFF5F0"/>
<rect x="342.12" y="269.86" width="12.3" height="8.0" fill="#FFF5F0"/>
<rect x="355.86" y="269.86" width="12.3" height="8.0" fill="#FFF5F0"/>
<rect x="369.60" y="269.86" width="12.3" height="8.0" fill="#FFF5F0"/>
<rect x="383.33" y="269.86" width="12.3" height="8.0" fill="#FFF5F0"/>
<rect x="397.06" y="269.86" width="12.3" height="8.0" fill="#FFF5F0"/>
<rect x="410.80" y="269.86" width="12.3" height="8.0" fill="#FFF5F0"/>
<rect x="424.53" y="269.86" width="12.3" height="8.0" fill="#FFF5F0"/>
<rect x="438.27" y="269.86" width="12.3" height="8.0" fill="#FFF5F0"/>
<rect x="452.00" y="269.86" width="12.3" height="8.0" fill="#FFF5F0"/>
<rect x="465.74" y="269.86" width="12.3" height="8.0" fill="#FFF5F0"/>
<rect x="136.10" y="279.35" width="12.3" height="8.0" fill="#FBBCA2"/>
<rect x="149.83" y="279.35" width="12.3" height="8.0" fill="#FFF5F0"/>
<rect x="163.57" y="279.35" width="12.3" height="8.0" fill="#FFF5F0"/>
<rect x="177.31" y="279.35" width="12.3" height="8.0" fill="#FFF5F0"/>
<rect x="191.04" y="279.35" width="12.3" height="8.0" fill="#FFF5F0"/>
<rect x="204.77" y="279.35" width="12.3" height="8.0" fill="#FFF5F0"/>
<rect x="218.51" y="279.35" width="12.3" height="8.0" fill="#FFF5F0"/>
<rect x="232.25" y="279.35" width="12.3" height="8.0" fill="#FFF5F0"/>
<rect x="245.98" y="279.35" width="12.3" height="8.0" fill="#FFF5F0"/>
<rect x="259.71" y="279.35" width="12.3" height="8.0" fill="#FFF5F0"/>
<rect x="273.45" y="279.35" width="12.3" height="8.0" fill="#FFF5F0"/>
<rect x="287.18" y="279.35" width="12.3" height="8.0" fill="#FFF5F0"/>
<rect x="300.92" y="279.35" width="12.3" height="8.0" fill="#FFF5F0"/>
<rect x="314.65" y="279.35" width="12.3" height="8.0" fill="#FFF5F0"/>
<rect x="328.39" y="279.35" width="12.3" height="8.0" fill="#FFF5F0"/>
<rect x="342.12" y="279.35" width="12.3" height="8.0" fill="#FFF5F0"/>
<rect x="355.86" y="279.35" width="12.3" height="8.0" fill="#FFF5F0"/>
<rect x="369.60" y="279.35" width="12.3" height="8.0" fill="#FFF5F0"/>
<rect x="383.33" y="279.35" width="12.3" height="8.0" fill="#FFF5F0"/>
<rect x="397.06" y="279.35" width="12.3" height="8.0" fill="#FFF5F0"/>
<rect x="410.80" y="279.35" width="12.3" height="8.0" fill="#FFF5F0"/>
<rect x="424.53" y="279.35" width="12.3" height="8.0" fill="#FFF5F0"/>
<rect x="438.27" y="279.35" width="12.3" height="8.0" fill="#FFF5F0"/>
<rect x="452.00" y="279.35" width="12.3" height="8.0" fill="#FFF5F0"/>
<rect x="465.74" y="279.35" width="12.3" height="8.0" fill="#FFF5F0"/>
<rect x="136.10" y="288.83" width="12.3" height="8.0" fill="#FBBCA2"/>
<rect x="149.83" y="288.83" width="12.3" height="8.0" fill="#FFF5F0"/>
<rect x="163.57" y="288.83" width="12.3" height="8.0" fill="#FFF5F0"/>
<rect x="177.31" y="288.83" width="12.3" height="8.0" fill="#FFF5F0"/>
<rect x="191.04" y="288.83" width="12.3" height="8.0" fill="#FFF5F0"/>
<rect x="204.77" y="288.83" width="12.3" height="8.0" fill="#FFF5F0"/>
<rect x="218.51" y="288.83" width="12.3" height="8.0" fill="#FFF5F0"/>
<rect x="232.25" y="288.83" width="12.3" height="8.0" fill="#FFF5F0"/>
<rect x="245.98" y="288.83" width="12.3" height="8.0" fill="#FFF5F0"/>
<rect x="259.71" y="288.83" width="12.3" height="8.0" fill="#FFF5F0"/>
<rect x="273.45" y="288.83" width="12.3" height="8.0" fill="#FFF5F0"/>
<rect x="287.18" y="288.83" width="12.3" height="8.0" fill="#FFF5F0"/>
<rect x="300.92" y="288.83" width="12.3" height="8.0" fill="#FFF5F0"/>
<rect x="314.65" y="288.83" width="12.3" height="8.0" fill="#FFF5F0"/>
<rect x="328.39" y="288.83" width="12.3" height="8.0" fill="#FFF5F0"/>
<rect x="342.12" y="288.83" width="12.3" height="8.0" fill="#FFF5F0"/>
<rect x="355.86" y="288.83" width="12.3" height="8.0" fill="#FFF5F0"/>
<rect x="369.60" y="288.83" width="12.3" height="8.0" fill="#FFF5F0"/>
<rect x="383.33" y="288.83" width="12.3" height="8.0" fill="#FFF5F0"/>
<rect x="397.06" y="288.83" width="12.3" height="8.0" fill="#FFF5F0"/>
<rect x="410.80" y="288.83" width="12.3" height="8.0" fill="#FFF5F0"/>
<rect x="424.53" y="288.83" width="12.3" height="8.0" fill="#FFF5F0"/>
<rect x="438.27" y="288.83" width="12.3" height="8.0" fill="#FFF5F0"/>
<rect x="452.00" y="288.83" width="12.3" height="8.0" fill="#FFF5F0"/>
<rect x="465.74" y="288.83" width="12.3" height="8.0" fill="#FFF5F0"/>
<rect x="136.10" y="298.31" width="12.3" height="8.0" fill="#F69476"/>
<rect x="149.83" y="298.31" width="12.3" height="8.0" fill="#FFF5F0"/>
<rect x="163.57" y="298.31" width="12.3" height="8.0" fill="#FFF5F0"/>
<rect x="177.31" y="298.31" width="12.3" height="8.0" fill="#FFF5F0"/>
<rect x="191.04" y="298.31" width="12.3" height="8.0" fill="#FFF5F0"/>
<rect x="204.77" y="298.31" width="12.3" height="8.0" fill="#FFF5F0"/>
<rect x="218.51" y="298.31" width="12.3" height="8.0" fill="#FFF5F0"/>
<rect x="232.25" y="298.31" width="12.3" height="8.0" fill="#FFF5F0"/>
<rect x="245.98" y="298.31" width="12.3" height="8.0" fill="#FFF5F0"/>
<rect x="259.71" y="298.31" width="12.3" height="8.0" fill="#FFF5F0"/>
<rect x="273.45" y="298.31" width="12.3" height="8.0" fill="#FFF5F0"/>
<rect x="287.18" y="298.31" width="12.3" height="8.0" fill="#FFF5F0"/>
<rect x="300.92" y="298.31" width="12.3" height="8.0" fill="#FFF5F0"/>
<rect x="314.65" y="298.31" width="12.3" height="8.0" fill="#FFF5F0"/>
<rect x="328.39" y="298.31" width="12.3" height="8.0" fill="#FFF5F0"/>
<rect x="342.12" y="298.31" width="12.3" height="8.0" fill="#FFF5F0"/>
<rect x="355.86" y="298.31" width="12.3" height="8.0" fill="#FFF5F0"/>
<rect x="369.60" y="298.31" width="12.3" height="8.0" fill="#FFF5F0"/>
<rect x="383.33" y="298.31" width="12.3" height="8.0" fill="#FFF5F0"/>
<rect x="397.06" y="298.31" width="12.3" height="8.0" fill="#FFF5F0"/>
<rect x="410.80" y="298.31" width="12.3" height="8.0" fill="#FFF5F0"/>
<rect x="424.53" y="298.31" width="12.3" height="8.0" fill="#FFF5F0"/>
<rect x="438.27" y="298.31" width="12.3" height="8.0" fill="#FFF5F0"/>
<rect x="452.00" y="298.31" width="12.3" height="8.0" fill="#FFF5F0"/>
<rect x="465.74" y="298.31" width="12.3" height="8.0" fill="#FFF5F0"/>
<rect x="136.10" y="307.80" width="12.3" height="8.0" fill="#FFF5F0"/>
<rect x="149.83" y="307.80" width="12.3" height="8.0" fill="#FFF5F0"/>
<rect x="163.57" y="307.80" width="12.3" height="8.0" fill="#FFF5F0"/>
<rect x="177.31" y="307.80" width="12.3" height="8.0" fill="#FFF5F0"/>
<rect x="191.04" y="307.80" width="12.3" height="8.0" fill="#FFF5F0"/>
<rect x="204.77" y="307.80" width="12.3" height="8.0" fill="#FFF5F0"/>
<rect x="218.51" y="307.80" width="12.3" height="8.0" fill="#FFF5F0"/>
<rect x="232.25" y="307.80" width="12.3" height="8.0" fill="#FFF5F0"/>
<rect x="245.98" y="307.80" width="12.3" height="8.0" fill="#FFF5F0"/>
<rect x="259.71" y="307.80" width="12.3" height="8.0" fill="#FFF5F0"/>
<rect x="273.45" y="307.80" width="12.3" height="8.0" fill="#FDE0D2"/>
<rect x="287.18" y="307.80" width="12.3" height="8.0" fill="#FDE0D2"/>
<rect x="300.92" y="307.80" width="12.3" height="8.0" fill="#FDE0D2"/>
<rect x="314.65" y="307.80" width="12.3" height="8.0" fill="#FFF5F0"/>
<rect x="328.39" y="307.80" width="12.3" height="8.0" fill="#FFF5F0"/>
<rect x="342.12" y="307.80" width="12.3" height="8.0" fill="#FFF5F0"/>
<rect x="355.86" y="307.80" width="12.3" height="8.0" fill="#FFF5F0"/>
<rect x="369.60" y="307.80" width="12.3" height="8.0" fill="#FFF5F0"/>
<rect x="383.33" y="307.80" width="12.3" height="8.0" fill="#FFF5F0"/>
<rect x="397.06" y="307.80" width="12.3" height="8.0" fill="#FFF5F0"/>
<rect x="410.80" y="307.80" width="12.3" height="8.0" fill="#FFF5F0"/>
<rect x="424.53" y="307.80" width="12.3" height="8.0" fill="#FFF5F0"/>
<rect x="438.27" y="307.80" width="12.3" height="8.0" fill="#FFF5F0"/>
<rect x="452.00" y="307.80" width="12.3" height="8.0" fill="#FFF5F0"/>
<rect x="465.74" y="307.80" width="12.3" height="8.0" fill="#FFF5F0"/>
<rect x="136.10" y="317.28" width="12.3" height="8.0" fill="#FFF5F0"/>
<rect x="149.83" y="317.28" width="12.3" height="8.0" fill="#FFF5F0"/>
<rect x="163.57" y="317.28" width="12.3" height="8.0" fill="#FFF5F0"/>
<rect x="177.31" y="317.28" width="12.3" height="8.0" fill="#FFF5F0"/>
<rect x="191.04" y="317.28" width="12.3" height="8.0" fill="#FFF5F0"/>
<rect x="204.77" y="317.28" width="12.3" height="8.0" fill="#FFF5F0"/>
<rect x="218.51" y="317.28" width="12.3" height="8.0" fill="#FFF5F0"/>
<rect x="232.25" y="317.28" width="12.3" height="8.0" fill="#FFF5F0"/>
<rect x="245.98" y="317.28" width="12.3" height="8.0" fill="#FFF5F0"/>
<rect x="259.71" y="317.28" width="12.3" height="8.0" fill="#FFF5F0"/>
<rect x="273.45" y="317.28" width="12.3" height="8.0" fill="#FFF5F0"/>
<rect x="287.18" y="317.28" width="12.3" height="8.0" fill="#FDE0D2"/>
<rect x="300.92" y="317.28" width="12.3" height="8.0" fill="#FBBCA2"/>
<rect x="314.65" y="317.28" width="12.3" height="8.0" fill="#FFF5F0"/>
<rect x="328.39" y="317.28" width="12.3" height="8.0" fill="#FFF5F0"/>
<rect x="342.12" y="317.28" width="12.3" height="8.0" fill="#FFF5F0"/>
<rect x="355.86" y="317.28" width="12.3" height="8.0" fill="#FFF5F0"/>
<rect x="369.60" y="317.28" width="12.3" height="8.0" fill="#FFF5F0"/>
<rect x="383.33" y="317.28" width="12.3" height="8.0" fill="#FFF5F0"/>
<rect x="397.06" y="317.28" width="12.3" height="8.0" fill="#FFF5F0"/>
<rect x="410.80" y="317.28" width="12.3" height="8.0" fill="#FFF5F0"/>
<rect x="424.53" y="317.28" width="12.3" height="8.0" fill="#FFF5F0"/>
<rect x="438.27" y="317.28" width="12.3" height="8.0" fill="#FFF5F0"/>
<rect x="452.00" y="317.28" width="12.3" height="8.0" fill="#FFF5F0"/>
<rect x="465.74" y="317.28" width="12.3" height="8.0" fill="#FFF5F0"/>
<rect x="136.10" y="326.77" width="12.3" height="8.0" fill="#FFF5F0"/>
<rect x="149.83" y="326.77" width="12.3" height="8.0" fill="#FFF5F0"/>
<rect x="163.57" y="326.77" width="12.3" height="8.0" fill="#FFF5F0"/>
<rect x="177.31" y="326.77" width="12.3" height="8.0" fill="#FFF5F0"/>
<rect x="191.04" y="326.77" width="12.3" height="8.0" fill="#F69476"/>
<rect x="204.77" y="326.77" width="12.3" height="8.0" fill="#FFF5F0"/>
<rect x="218.51" y="326.77" width="12.3" height="8.0" fill="#FFF5F0"/>
<rect x="232.25" y="326.77" width="12.3" height="8.0" fill="#FFF5F0"/>
<rect x="245.98" y="326.77" width="12.3" height="8.0" fill="#FFF5F0"/>
<rect x="259.71" y="326.77" width="12.3" height="8.0" fill="#FFF5F0"/>
<rect x="273.45" y="326.77" width="12.3" height="8.0" fill="#FFF5F0"/>
<rect x="287.18" y="326.77" width="12.3" height="8.0" fill="#FFF5F0"/>
<rect x="300.92" y="326.77" width="12.3" height="8.0" fill="#FFF5F0"/>
<rect x="314.65" y="326.77" width="12.3" height="8.0" fill="#FFF5F0"/>
<rect x="328.39" y="326.77" width="12.3" height="8.0" fill="#FFF5F0"/>
<rect x="342.12" y="326.77" width="12.3" height="8.0" fill="#FFF5F0"/>
<rect x="355.86" y="326.77" width="12.3" height="8.0" fill="#FFF5F0"/>
<rect x="369.60" y="326.77" width="12.3" height="8.0" fill="#FFF5F0"/>
<rect x="383.33" y="326.77" width="12.3" height="8.0" fill="#FFF5F0"/>
<rect x="397.06" y="326.77" width="12.3" height="8.0" fill="#FFF5F0"/>
<rect x="410.80" y="326.77" width="12.3" height="8.0" fill="#FFF5F0"/>
<rect x="424.53" y="326.77" width="12.3" height="8.0" fill="#FFF5F0"/>
<rect x="438.27" y="326.77" width="12.3" height="8.0" fill="#FFF5F0"/>
<rect x="452.00" y="326.77" width="12.3" height="8.0" fill="#FFF5F0"/>
<rect x="465.74" y="326.77" width="12.3" height="8.0" fill="#FFF5F0"/>
<rect x="136.10" y="336.25" width="12.3" height="8.0" fill="#FFF5F0"/>
<rect x="149.83" y="336.25" width="12.3" height="8.0" fill="#FFF5F0"/>
<rect x="163.57" y="336.25" width="12.3" height="8.0" fill="#FFF5F0"/>
<rect x="177.31" y="336.25" width="12.3" height="8.0" fill="#FFF5F0"/>
<rect x="191.04" y="336.25" width="12.3" height="8.0" fill="#FBBCA2"/>
<rect x="204.77" y="336.25" width="12.3" height="8.0" fill="#FFF5F0"/>
<rect x="218.51" y="336.25" width="12.3" height="8.0" fill="#FFF5F0"/>
<rect x="232.25" y="336.25" width="12.3" height="8.0" fill="#FFF5F0"/>
<rect x="245.98" y="336.25" width="12.3" height="8.0" fill="#FFF5F0"/>
<rect x="259.71" y="336.25" width="12.3" height="8.0" fill="#FFF5F0"/>
<rect x="273.45" y="336.25" width="12.3" height="8.0" fill="#FFF5F0"/>
<rect x="287.18" y="336.25" width="12.3" height="8.0" fill="#FFF5F0"/>
<rect x="300.92" y="336.25" width="12.3" height="8.0" fill="#FFF5F0"/>
<rect x="314.65" y="336.25" width="12.3" height="8.0" fill="#FFF5F0"/>
<rect x="328.39" y="336.25" width="12.3" height="8.0" fill="#FFF5F0"/>
<rect x="342.12" y="336.25" width="12.3" height="8.0" fill="#FFF5F0"/>
<rect x="355.86" y="336.25" width="12.3" height="8.0" fill="#FFF5F0"/>
<rect x="369.60" y="336.25" width="12.3" height="8.0" fill="#FFF5F0"/>
<rect x="383.33" y="336.25" width="12.3" height="8.0" fill="#FFF5F0"/>
<rect x="397.06" y="336.25" width="12.3" height="8.0" fill="#FFF5F0"/>
<rect x="410.80" y="336.25" width="12.3" height="8.0" fill="#FFF5F0"/>
<rect x="424.53" y="336.25" width="12.3" height="8.0" fill="#FFF5F0"/>
<rect x="438.27" y="336.25" width="12.3" height="8.0" fill="#FFF5F0"/>
<rect x="452.00" y="336.25" width="12.3" height="8.0" fill="#FFF5F0"/>
<rect x="465.74" y="336.25" width="12.3" height="8.0" fill="#FFF5F0"/>
<rect x="136.10" y="345.74" width="12.3" height="8.0" fill="#FFF5F0"/>
<rect x="149.83" y="345.74" width="12.3" height="8.0" fill="#FFF5F0"/>
<rect x="163.57" y="345.74" width="12.3" height="8.0" fill="#FFF5F0"/>
<rect x="177.31" y="345.74" width="12.3" height="8.0" fill="#FFF5F0"/>
<rect x="191.04" y="345.74" width="12.3" height="8.0" fill="#FDE0D2"/>
<rect x="204.77" y="345.74" width="12.3" height="8.0" fill="#FFF5F0"/>
<rect x="218.51" y="345.74" width="12.3" height="8.0" fill="#FFF5F0"/>
<rect x="232.25" y="345.74" width="12.3" height="8.0" fill="#FFF5F0"/>
<rect x="245.98" y="345.74" width="12.3" height="8.0" fill="#FFF5F0"/>
<rect x="259.71" y="345.74" width="12.3" height="8.0" fill="#FFF5F0"/>
<rect x="273.45" y="345.74" width="12.3" height="8.0" fill="#FFF5F0"/>
<rect x="287.18" y="345.74" width="12.3" height="8.0" fill="#FFF5F0"/>
<rect x="300.92" y="345.74" width="12.3" height="8.0" fill="#FFF5F0"/>
<rect x="314.65" y="345.74" width="12.3" height="8.0" fill="#FFF5F0"/>
<rect x="328.39" y="345.74" width="12.3" height="8.0" fill="#FFF5F0"/>
<rect x="342.12" y="345.74" width="12.3" height="8.0" fill="#FFF5F0"/>
<rect x="355.86" y="345.74" width="12.3" height="8.0" fill="#FFF5F0"/>
<rect x="369.60" y="345.74" width="12.3" height="8.0" fill="#FFF5F0"/>
<rect x="383.33" y="345.74" width="12.3" height="8.0" fill="#FFF5F0"/>
<rect x="397.06" y="345.74" width="12.3" height="8.0" fill="#FFF5F0"/>
<rect x="410.80" y="345.74" width="12.3" height="8.0" fill="#FFF5F0"/>
<rect x="424.53" y="345.74" width="12.3" height="8.0" fill="#FFF5F0"/>
<rect x="438.27" y="345.74" width="12.3" height="8.0" fill="#FFF5F0"/>
<rect x="452.00" y="345.74" width="12.3" height="8.0" fill="#FFF5F0"/>
<rect x="465.74" y="345.74" width="12.3" height="8.0" fill="#FFF5F0"/>
<rect x="136.10" y="355.23" width="12.3" height="8.0" fill="#FFF5F0"/>
<rect x="149.83" y="355.23" width="12.3" height="8.0" fill="#FFF5F0"/>
<rect x="163.57" y="355.23" width="12.3" height="8.0" fill="#FFF5F0"/>
<rect x="177.31" y="355.23" width="12.3" height="8.0" fill="#FBBCA2"/>
<rect x="191.04" y="355.23" width="12.3" height="8.0" fill="#FFF5F0"/>
<rect x="204.77" y="355.23" width="12.3" height="8.0" fill="#FFF5F0"/>
<rect x="218.51" y="355.23" width="12.3" height="8.0" fill="#FFF5F0"/>
<rect x="232.25" y="355.23" width="12.3" height="8.0" fill="#FFF5F0"/>
<rect x="245.98" y="355.23" width="12.3" height="8.0" fill="#FFF5F0"/>
<rect x="259.71" y="355.23" width="12.3" height="8.0" fill="#FFF5F0"/>
<rect x="273.45" y="355.23" width="12.3" height="8.0" fill="#FFF5F0"/>
<rect x="287.18" y="355.23" width="12.3" height="8.0" fill="#FFF5F0"/>
<rect x="300.92" y="355.23" width="12.3" height="8.0" fill="#FFF5F0"/>
<rect x="314.65" y="355.23" width="12.3" height="8.0" fill="#FFF5F0"/>
<rect x="328.39" y="355.23" width="12.3" height="8.0" fill="#FFF5F0"/>
<rect x="342.12" y="355.23" width="12.3" height="8.0" fill="#FFF5F0"/>
<rect x="355.86" y="355.23" width="12.3" height="8.0" fill="#FFF5F0"/>
<rect x="369.60" y="355.23" width="12.3" height="8.0" fill="#FFF5F0"/>
<rect x="383.33" y="355.23" width="12.3" height="8.0" fill="#FFF5F0"/>
<rect x="397.06" y="355.23" width="12.3" height="8.0" fill="#FFF5F0"/>
<rect x="410.80" y="355.23" width="12.3" height="8.0" fill="#FFF5F0"/>
<rect x="424.53" y="355.23" width="12.3" height="8.0" fill="#FFF5F0"/>
<rect x="438.27" y="355.23" width="12.3" height="8.0" fill="#FFF5F0"/>
<rect x="452.00" y="355.23" width="12.3" height="8.0" fill="#FFF5F0"/>
<rect x="465.74" y="355.23" width="12.3" height="8.0" fill="#FFF5F0"/>
<rect x="136.10" y="364.71" width="12.3" height="8.0" fill="#FFF5F0"/>
<rect x="149.83" y="364.71" width="12.3" height="8.0" fill="#FFF5F0"/>
<rect x="163.57" y="364.71" width="12.3" height="8.0" fill="#FFF5F0"/>
<rect x="177.31" y="364.71" width="12.3" height="8.0" fill="#FBBCA2"/>
<rect x="191.04" y="364.71" width="12.3" height="8.0" fill="#FFF5F0"/>
<rect x="204.77" y="364.71" width="12.3" height="8.0" fill="#FFF5F0"/>
<rect x="218.51" y="364.71" width="12.3" height="8.0" fill="#FFF5F0"/>
<rect x="232.25" y="364.71" width="12.3" height="8.0" fill="#FFF5F0"/>
<rect x="245.98" y="364.71" width="12.3" height="8.0" fill="#FFF5F0"/>
<rect x="259.71" y="364.71" width="12.3" height="8.0" fill="#FFF5F0"/>
<rect x="273.45" y="364.71" width="12.3" height="8.0" fill="#FFF5F0"/>
<rect x="287.18" y="364.71" width="12.3" height="8.0" fill="#FFF5F0"/>
<rect x="300.92" y="364.71" width="12.3" height="8.0" fill="#FFF5F0"/>
<rect x="314.65" y="364.71" width="12.3" height="8.0" fill="#FFF5F0"/>
<rect x="328.39" y="364.71" width="12.3" height="8.0" fill="#FFF5F0"/>
<rect x="342.12" y="364.71" width="12.3" height="8.0" fill="#FFF5F0"/>
<rect x="355.86" y="364.71" width="12.3" height="8.0" fill="#FFF5F0"/>
<rect x="369.60" y="364.71" width="12.3" height="8.0" fill="#FFF5F0"/>
<rect x="383.33" y="364.71" width="12.3" height="8.0" fill="#FFF5F0"/>
<rect x="397.06" y="364.71" width="12.3" height="8.0" fill="#FFF5F0"/>
<rect x="410.80" y="364.71" width="12.3" height="8.0" fill="#FFF5F0"/>
<rect x="424.53" y="364.71" width="12.3" height="8.0" fill="#FFF5F0"/>
<rect x="438.27" y="364.71" width="12.3" height="8.0" fill="#FFF5F0"/>
<rect x="452.00" y="364.71" width="12.3" height="8.0" fill="#FFF5F0"/>
<rect x="465.74" y="364.71" width="12.3" height="8.0" fill="#FFF5F0"/>
<rect x="136.10" y="374.19" width="12.3" height="8.0" fill="#FFF5F0"/>
<rect x="149.83" y="374.19" width="12.3" height="8.0" fill="#FFF5F0"/>
<rect x="163.57" y="374.19" width="12.3" height="8.0" fill="#FFF5F0"/>
<rect x="177.31" y="374.19" width="12.3" height="8.0" fill="#FBBCA2"/>
<rect x="191.04" y="374.19" width="12.3" height="8.0" fill="#FFF5F0"/>
<rect x="204.77" y="374.19" width="12.3" height="8.0" fill="#FFF5F0"/>
<rect x="218.51" y="374.19" width="12.3" height="8.0" fill="#FFF5F0"/>
<rect x="232.25" y="374.19" width="12.3" height="8.0" fill="#FFF5F0"/>
<rect x="245.98" y="374.19" width="12.3" height="8.0" fill="#FFF5F0"/>
<rect x="259.71" y="374.19" width="12.3" height="8.0" fill="#FFF5F0"/>
<rect x="273.45" y="374.19" width="12.3" height="8.0" fill="#FFF5F0"/>
<rect x="287.18" y="374.19" width="12.3" height="8.0" fill="#FFF5F0"/>
<rect x="300.92" y="374.19" width="12.3" height="8.0" fill="#FFF5F0"/>
<rect x="314.65" y="374.19" width="12.3" height="8.0" fill="#FFF5F0"/>
<rect x="328.39" y="374.19" width="12.3" height="8.0" fill="#FFF5F0"/>
<rect x="342.12" y="374.19" width="12.3" height="8.0" fill="#FFF5F0"/>
<rect x="355.86" y="374.19" width="12.3" height="8.0" fill="#FFF5F0"/>
<rect x="369.60" y="374.19" width="12.3" height="8.0" fill="#FFF5F0"/>
<rect x="383.33" y="374.19" width="12.3" height="8.0" fill="#FFF5F0"/>
<rect x="397.06" y="374.19" width="12.3" height="8.0" fill="#FFF5F0"/>
<rect x="410.80" y="374.19" width="12.3" height="8.0" fill="#FFF5F0"/>
<rect x="424.53" y="374.19" width="12.3" height="8.0" fill="#FFF5F0"/>
<rect x="438.27" y="374.19" width="12.3" height="8.0" fill="#FFF5F0"/>
<rect x="452.00" y="374.19" width="12.3" height="8.0" fill="#FFF5F0"/>
<rect x="465.74" y="374.19" width="12.3" height="8.0" fill="#FFF5F0"/>
<rect x="136.10" y="383.68" width="12.3" height="8.0" fill="#FFF5F0"/>
<rect x="149.83" y="383.68" width="12.3" height="8.0" fill="#FFF5F0"/>
<rect x="163.57" y="383.68" width="12.3" height="8.0" fill="#FFF5F0"/>
<rect x="177.31" y="383.68" width="12.3" height="8.0" fill="#FBBCA2"/>
<rect x="191.04" y="383.68" width="12.3" height="8.0" fill="#FFF5F0"/>
<rect x="204.77" y="383.68" width="12.3" height="8.0" fill="#FFF5F0"/>
<rect x="218.51" y="383.68" width="12.3" height="8.0" fill="#FFF5F0"/>
<rect x="232.25" y="383.68" width="12.3" height="8.0" fill="#FFF5F0"/>
<rect x="245.98" y="383.68" width="12.3" height="8.0" fill="#FFF5F0"/>
<rect x="259.71" y="383.68" width="12.3" height="8.0" fill="#FFF5F0"/>
<rect x="273.45" y="383.68" width="12.3" height="8.0" fill="#FFF5F0"/>
<rect x="287.18" y="383.68" width="12.3" height="8.0" fill="#FFF5F0"/>
<rect x="300.92" y="383.68" width="12.3" height="8.0" fill="#FFF5F0"/>
<rect x="314.65" y="383.68" width="12.3" height="8.0" fill="#FFF5F0"/>
<rect x="328.39" y="383.68" width="12.3" height="8.0" fill="#FFF5F0"/>
<rect x="342.12" y="383.68" width="12.3" height="8.0" fill="#FFF5F0"/>
<rect x="355.86" y="383.68" width="12.3" height="8.0" fill="#FFF5F0"/>
<rect x="369.60" y="383.68" width="12.3" height="8.0" fill="#FFF5F0"/>
<rect x="383.33" y="383.68" width="12.3" height="8.0" fill="#FFF5F0"/>
<rect x="397.06" y="383.68" width="12.3" height="8.0" fill="#FFF5F0"/>
<rect x="410.80" y="383.68" width="12.3" height="8.0" fill="#FFF5F0"/>
<rect x="424.53" y="383.68" width="12.3" height="8.0" fill="#FFF5F0"/>
<rect x="438.27" y="383.68" width="12.3" height="8.0" fill="#FFF5F0"/>
<rect x="452.00" y="383.68" width="12.3" height="8.0" fill="#FFF5F0"/>
<rect x="465.74" y="383.68" width="12.3" height="8.0" fill="#FFF5F0"/>
<rect x="136.10" y="393.16" width="12.3" height="8.0" fill="#FFF5F0"/>
<rect x="149.83" y="393.16" width="12.3" height="8.0" fill="#FFF5F0"/>
<rect x="163.57" y="393.16" width="12.3" height="8.0" fill="#FFF5F0"/>
<rect x="177.31" y="393.16" width="12.3" height="8.0" fill="#FBBCA2"/>
<rect x="191.04" y="393.16" width="12.3" height="8.0" fill="#FFF5F0"/>
<rect x="204.77" y="393.16" width="12.3" height="8.0" fill="#FFF5F0"/>
<rect x="218.51" y="393.16" width="12.3" height="8.0" fill="#FFF5F0"/>
<rect x="232.25" y="393.16" width="12.3" height="8.0" fill="#FFF5F0"/>
<rect x="245.98" y="393.16" width="12.3" height="8.0" fill="#FFF5F0"/>
<rect x="259.71" y="393.16" width="12.3" height="8.0" fill="#FFF5F0"/>
<rect x="273.45" y="393.16" width="12.3" height="8.0" fill="#FFF5F0"/>
<rect x="287.18" y="393.16" width="12.3" height="8.0" fill="#FFF5F0"/>
<rect x="300.92" y="393.16" width="12.3" height="8.0" fill="#FFF5F0"/>
<rect x="314.65" y="393.16" width="12.3" height="8.0" fill="#FFF5F0"/>
<rect x="328.39" y="393.16" width="12.3" height="8.0" fill="#FFF5F0"/>
<rect x="342.12" y="393.16" width="12.3" height="8.0" fill="#FDE0D2"/>
<rect x="355.86" y="393.16" width="12.3" height="8.0" fill="#FFF5F0"/>
<rect x="369.60" y="393.16" width="12.3" height="8.0" fill="#FFF5F0"/>
<rect x="383.33" y="393.16" width="12.3" height="8.0" fill="#FFF5F0"/>
<rect x="397.06" y="393.16" width="12.3" height="8.0" fill="#FFF5F0"/>
<rect x="410.80" y="393.16" width="12.3" height="8.0" fill="#FFF5F0"/>
<rect x="424.53" y="393.16" width="12.3" height="8.0" fill="#FFF5F0"/>
<rect x="438.27" y="393.16" width="12.3" height="8.0" fill="#FFF5F0"/>
<rect x="452.00" y="393.16" width="12.3" height="8.0" fill="#FFF5F0"/>
<rect x="465.74" y="393.16" width="12.3" height="8.0" fill="#FFF5F0"/>
<rect x="136.10" y="402.65" width="12.3" height="8.0" fill="#FFF5F0"/>
<rect x="149.83" y="402.65" width="12.3" height="8.0" fill="#FFF5F0"/>
<rect x="163.57" y="402.65" width="12.3" height="8.0" fill="#FFF5F0"/>
<rect x="177.31" y="402.65" width="12.3" height="8.0" fill="#FFF5F0"/>
<rect x="191.04" y="402.65" width="12.3" height="8.0" fill="#FFF5F0"/>
<rect x="204.77" y="402.65" width="12.3" height="8.0" fill="#FFF5F0"/>
<rect x="218.51" y="402.65" width="12.3" height="8.0" fill="#FFF5F0"/>
<rect x="232.25" y="402.65" width="12.3" height="8.0" fill="#FFF5F0"/>
<rect x="245.98" y="402.65" width="12.3" height="8.0" fill="#FFF5F0"/>
<rect x="259.71" y="402.65" width="12.3" height="8.0" fill="#FFF5F0"/>
<rect x="273.45" y="402.65" width="12.3" height="8.0" fill="#FFF5F0"/>
<rect x="287.18" y="402.65" width="12.3" height="8.0" fill="#FFF5F0"/>
<rect x="300.92" y="402.65" width="12.3" height="8.0" fill="#FFF5F0"/>
<rect x="314.65" y="402.65" width="12.3" height="8.0" fill="#FBBCA2"/>
<rect x="328.39" y="402.65" width="12.3" height="8.0" fill="#FBBCA2"/>
<rect x="342.12" y="402.65" width="12.3" height="8.0" fill="#FFF5F0"/>
<rect x="355.86" y="402.65" width="12.3" height="8.0" fill="#FFF5F0"/>
<rect x="369.60" y="402.65" width="12.3" height="8.0" fill="#FFF5F0"/>
<rect x="383.33" y="402.65" width="12.3" height="8.0" fill="#FFF5F0"/>
<rect x="397.06" y="402.65" width="12.3" height="8.0" fill="#FFF5F0"/>
<rect x="410.80" y="402.65" width="12.3" height="8.0" fill="#FFF5F0"/>
<rect x="424.53" y="402.65" width="12.3" height="8.0" fill="#FFF5F0"/>
<rect x="438.27" y="402.65" width="12.3" height="8.0" fill="#FFF5F0"/>
<rect x="452.00" y="402.65" width="12.3" height="8.0" fill="#FFF5F0"/>
<rect x="465.74" y="402.65" width="12.3" height="8.0" fill="#FFF5F0"/>
<rect x="136.10" y="412.13" width="12.3" height="8.0" fill="#FFF5F0"/>
<rect x="149.83" y="412.13" width="12.3" height="8.0" fill="#FFF5F0"/>
<rect x="163.57" y="412.13" width="12.3" height="8.0" fill="#FFF5F0"/>
<rect x="177.31" y="412.13" width="12.3" height="8.0" fill="#FFF5F0"/>
<rect x="191.04" y="412.13" width="12.3" height="8.0" fill="#FFF5F0"/>
<rect x="204.77" y="412.13" width="12.3" height="8.0" fill="#FFF5F0"/>
<rect x="218.51" y="412.13" width="12.3" height="8.0" fill="#FFF5F0"/>
<rect x="232.25" y="412.13" width="12.3" height="8.0" fill="#FFF5F0"/>
<rect x="245.98" y="412.13" width="12.3" height="8.0" fill="#FFF5F0"/>
<rect x="259.71" y="412.13" width="12.3" height="8.0" fill="#FFF5F0"/>
<rect x="273.45" y="412.13" width="12.3" height="8.0" fill="#FFF5F0"/>
<rect x="287.18" y="412.13" width="12.3" height="8.0" fill="#FFF5F0"/>
<rect x="300.92" y="412.13" width="12.3" height="8.0" fill="#FFF5F0"/>
<rect x="314.65" y="412.13" width="12.3" height="8.0" fill="#FFF5F0"/>
<rect x="328.39" y="412.13" width="12.3" height="8.0" fill="#FFF5F0"/>
<rect x="342.12" y="412.13" width="12.3" height="8.0" fill="#FFF5F0"/>
<rect x="355.86" y="412.13" width="12.3" height="8.0" fill="#FFF5F0"/>
<rect x="369.60" y="412.13" width="12.3" height="8.0" fill="#FFF5F0"/>
<rect x="383.33" y="412.13" width="12.3" height="8.0" fill="#FFF5F0"/>
<rect x="397.06" y="412.13" width="12.3" height="8.0" fill="#FFF5F0"/>
<rect x="410.80" y="412.13" width="12.3" height="8.0" fill="#FFF5F0"/>
<rect x="424.53" y="412.13" width="12.3" height="8.0" fill="#F06B4D"/>
<rect x="438.27" y="412.13" width="12.3" height="8.0" fill="#FFF5F0"/>
<rect x="452.00" y="412.13" width="12.3" height="8.0" fill="#FFF5F0"/>
<rect x="465.74" y="412.13" width="12.3" height="8.0" fill="#FDE0D2"/>
<rect x="136.10" y="421.62" width="12.3" height="8.0" fill="#FFF5F0"/>
<rect x="149.83" y="421.62" width="12.3" height="8.0" fill="#FFF5F0"/>
<rect x="163.57" y="421.62" width="12.3" height="8.0" fill="#FFF5F0"/>
<rect x="177.31" y="421.62" width="12.3" height="8.0" fill="#FFF5F0"/>
<rect x="191.04" y="421.62" width="12.3" height="8.0" fill="#FFF5F0"/>
<rect x="204.77" y="421.62" width="12.3" height="8.0" fill="#FFF5F0"/>
<rect x="218.51" y="421.62" width="12.3" height="8.0" fill="#FFF5F0"/>
<rect x="232.25" y="421.62" width="12.3" height="8.0" fill="#FFF5F0"/>
<rect x="245.98" y="421.62" width="12.3" height="8.0" fill="#FFF5F0"/>
<rect x="259.71" y="421.62" width="12.3" height="8.0" fill="#FFF5F0"/>
<rect x="273.45" y="421.62" width="12.3" height="8.0" fill="#FFF5F0"/>
<rect x="287.18" y="421.62" width="12.3" height="8.0" fill="#FFF5F0"/>
<rect x="300.92" y="421.62" width="12.3" height="8.0" fill="#FFF5F0"/>
<rect x="314.65" y="421.62" width="12.3" height="8.0" fill="#FFF5F0"/>
<rect x="328.39" y="421.62" width="12.3" height="8.0" fill="#FFF5F0"/>
<rect x="342.12" y="421.62" width="12.3" height="8.0" fill="#FFF5F0"/>
<rect x="355.86" y="421.62" width="12.3" height="8.0" fill="#FFF5F0"/>
<rect x="369.60" y="421.62" width="12.3" height="8.0" fill="#FFF5F0"/>
<rect x="383.33" y="421.62" width="12.3" height="8.0" fill="#FFF5F0"/>
<rect x="397.06" y="421.62" width="12.3" height="8.0" fill="#FFF5F0"/>
<rect x="410.80" y="421.62" width="12.3" height="8.0" fill="#FFF5F0"/>
<rect x="424.53" y="421.62" width="12.3" height="8.0" fill="#FBBCA2"/>
<rect x="438.27" y="421.62" width="12.3" height="8.0" fill="#FFF5F0"/>
<rect x="452.00" y="421.62" width="12.3" height="8.0" fill="#FFF5F0"/>
<rect x="465.74" y="421.62" width="12.3" height="8.0" fill="#FBBCA2"/>
<rect x="136.10" y="431.11" width="12.3" height="8.0" fill="#FFF5F0"/>
<rect x="149.83" y="431.11" width="12.3" height="8.0" fill="#FFF5F0"/>
<rect x="163.57" y="431.11" width="12.3" height="8.0" fill="#F69476"/>
<rect x="177.31" y="431.11" width="12.3" height="8.0" fill="#FFF5F0"/>
<rect x="191.04" y="431.11" width="12.3" height="8.0" fill="#FFF5F0"/>
<rect x="204.77" y="431.11" width="12.3" height="8.0" fill="#FFF5F0"/>
<rect x="218.51" y="431.11" width="12.3" height="8.0" fill="#FFF5F0"/>
<rect x="232.25" y="431.11" width="12.3" height="8.0" fill="#FFF5F0"/>
<rect x="245.98" y="431.11" width="12.3" height="8.0" fill="#FFF5F0"/>
<rect x="259.71" y="431.11" width="12.3" height="8.0" fill="#FFF5F0"/>
<rect x="273.45" y="431.11" width="12.3" height="8.0" fill="#FFF5F0"/>
<rect x="287.18" y="431.11" width="12.3" height="8.0" fill="#FFF5F0"/>
<rect x="300.92" y="431.11" width="12.3" height="8.0" fill="#FFF5F0"/>
<rect x="314.65" y="431.11" width="12.3" height="8.0" fill="#FFF5F0"/>
<rect x="328.39" y="431.11" width="12.3" height="8.0" fill="#FFF5F0"/>
<rect x="342.12" y="431.11" width="12.3" height="8.0" fill="#FFF5F0"/>
<rect x="355.86" y="431.11" width="12.3" height="8.0" fill="#FFF5F0"/>
<rect x="369.60" y="431.11" width="12.3" height="8.0" fill="#FFF5F0"/>
<rect x="383.33" y="431.11" width="12.3" height="8.0" fill="#FFF5F0"/>
<rect x="397.06" y="431.11" width="12.3" height="8.0" fill="#FFF5F0"/>
<rect x="410.80" y="431.11" width="12.3" height="8.0" fill="#FFF5F0"/>
<rect x="424.53" y="431.11" width="12.3" height="8.0" fill="#FFF5F0"/>
<rect x="438.27" y="431.11" width="12.3" height="8.0" fill="#FFF5F0"/>
<rect x="452.00" y="431.11" width="12.3" height="8.0" fill="#FFF5F0"/>
<rect x="465.74" y="431.11" width="12.3" height="8.0" fill="#FFF5F0"/>
<rect x="136.10" y="440.59" width="12.3" height="8.0" fill="#FFF5F0"/>
<rect x="149.83" y="440.59" width="12.3" height="8.0" fill="#FFF5F0"/>
<rect x="163.57" y="440.59" width="12.3" height="8.0" fill="#F69476"/>
<rect x="177.31" y="440.59" width="12.3" height="8.0" fill="#FFF5F0"/>
<rect x="191.04" y="440.59" width="12.3" height="8.0" fill="#FFF5F0"/>
<rect x="204.77" y="440.59" width="12.3" height="8.0" fill="#FFF5F0"/>
<rect x="218.51" y="440.59" width="12.3" height="8.0" fill="#FFF5F0"/>
<rect x="232.25" y="440.59" width="12.3" height="8.0" fill="#FFF5F0"/>
<rect x="245.98" y="440.59" width="12.3" height="8.0" fill="#FFF5F0"/>
<rect x="259.71" y="440.59" width="12.3" height="8.0" fill="#FFF5F0"/>
<rect x="273.45" y="440.59" width="12.3" height="8.0" fill="#FFF5F0"/>
<rect x="287.18" y="440.59" width="12.3" height="8.0" fill="#FFF5F0"/>
<rect x="300.92" y="440.59" width="12.3" height="8.0" fill="#FFF5F0"/>
<rect x="314.65" y="440.59" width="12.3" height="8.0" fill="#FFF5F0"/>
<rect x="328.39" y="440.59" width="12.3" height="8.0" fill="#FFF5F0"/>
<rect x="342.12" y="440.59" width="12.3" height="8.0" fill="#FFF5F0"/>
<rect x="355.86" y="440.59" width="12.3" height="8.0" fill="#FFF5F0"/>
<rect x="369.60" y="440.59" width="12.3" height="8.0" fill="#FFF5F0"/>
<rect x="383.33" y="440.59" width="12.3" height="8.0" fill="#FFF5F0"/>
<rect x="397.06" y="440.59" width="12.3" height="8.0" fill="#FFF5F0"/>
<rect x="410.80" y="440.59" width="12.3" height="8.0" fill="#FFF5F0"/>
<rect x="424.53" y="440.59" width="12.3" height="8.0" fill="#FFF5F0"/>
<rect x="438.27" y="440.59" width="12.3" height="8.0" fill="#FFF5F0"/>
<rect x="452.00" y="440.59" width="12.3" height="8.0" fill="#FFF5F0"/>
<rect x="465.74" y="440.59" width="12.3" height="8.0" fill="#FFF5F0"/>
<rect x="136.10" y="450.07" width="12.3" height="8.0" fill="#FFF5F0"/>
<rect x="149.83" y="450.07" width="12.3" height="8.0" fill="#FFF5F0"/>
<rect x="163.57" y="450.07" width="12.3" height="8.0" fill="#FBBCA2"/>
<rect x="177.31" y="450.07" width="12.3" height="8.0" fill="#FFF5F0"/>
<rect x="191.04" y="450.07" width="12.3" height="8.0" fill="#FFF5F0"/>
<rect x="204.77" y="450.07" width="12.3" height="8.0" fill="#FFF5F0"/>
<rect x="218.51" y="450.07" width="12.3" height="8.0" fill="#FFF5F0"/>
<rect x="232.25" y="450.07" width="12.3" height="8.0" fill="#FFF5F0"/>
<rect x="245.98" y="450.07" width="12.3" height="8.0" fill="#FFF5F0"/>
<rect x="259.71" y="450.07" width="12.3" height="8.0" fill="#FFF5F0"/>
<rect x="273.45" y="450.07" width="12.3" height="8.0" fill="#FFF5F0"/>
<rect x="287.18" y="450.07" width="12.3" height="8.0" fill="#FFF5F0"/>
<rect x="300.92" y="450.07" width="12.3" height="8.0" fill="#FFF5F0"/>
<rect x="314.65" y="450.07" width="12.3" height="8.0" fill="#FFF5F0"/>
<rect x="328.39" y="450.07" width="12.3" height="8.0" fill="#FFF5F0"/>
<rect x="342.12" y="450.07" width="12.3" height="8.0" fill="#FFF5F0"/>
<rect x="355.86" y="450.07" width="12.3" height="8.0" fill="#FFF5F0"/>
<rect x="369.60" y="450.07" width="12.3" height="8.0" fill="#FFF5F0"/>
<rect x="383.33" y="450.07" width="12.3" height="8.0" fill="#FFF5F0"/>
<rect x="397.06" y="450.07" width="12.3" height="8.0" fill="#FFF5F0"/>
<rect x="410.80" y="450.07" width="12.3" height="8.0" fill="#FFF5F0"/>
<rect x="424.53" y="450.07" width="12.3" height="8.0" fill="#FFF5F0"/>
<rect x="438.27" y="450.07" width="12.3" height="8.0" fill="#FFF5F0"/>
<rect x="452.00" y="450.07" width="12.3" height="8.0" fill="#FFF5F0"/>
<rect x="465.74" y="450.07" width="12.3" height="8.0" fill="#FFF5F0"/>
<rect x="136.10" y="459.56" width="12.3" height="8.0" fill="#FFF5F0"/>
<rect x="149.83" y="459.56" width="12.3" height="8.0" fill="#FFF5F0"/>
<rect x="163.57" y="459.56" width="12.3" height="8.0" fill="#FBBCA2"/>
<rect x="177.31" y="459.56" width="12.3" height="8.0" fill="#FFF5F0"/>
<rect x="191.04" y="459.56" width="12.3" height="8.0" fill="#FFF5F0"/>
<rect x="204.77" y="459.56" width="12.3" height="8.0" fill="#FFF5F0"/>
<rect x="218.51" y="459.56" width="12.3" height="8.0" fill="#FFF5F0"/>
<rect x="232.25" y="459.56" width="12.3" height="8.0" fill="#FFF5F0"/>
<rect x="245.98" y="459.56" width="12.3" height="8.0" fill="#FFF5F0"/>
<rect x="259.71" y="459.56" width="12.3" height="8.0" fill="#FFF5F0"/>
<rect x="273.45" y="459.56" width="12.3" height="8.0" fill="#FFF5F0"/>
<rect x="287.18" y="459.56" width="12.3" height="8.0" fill="#FFF5F0"/>
<rect x="300.92" y="459.56" width="12.3" height="8.0" fill="#FFF5F0"/>
<rect x="314.65" y="459.56" width="12.3" height="8.0" fill="#FFF5F0"/>
<rect x="328.39" y="459.56" width="12.3" height="8.0" fill="#FFF5F0"/>
<rect x="342.12" y="459.56" width="12.3" height="8.0" fill="#FFF5F0"/>
<rect x="355.86" y="459.56" width="12.3" height="8.0" fill="#FFF5F0"/>
<rect x="369.60" y="459.56" width="12.3" height="8.0" fill="#FFF5F0"/>
<rect x="383.33" y="459.56" width="12.3" height="8.0" fill="#FFF5F0"/>
<rect x="397.06" y="459.56" width="12.3" height="8.0" fill="#FFF5F0"/>
<rect x="410.80" y="459.56" width="12.3" height="8.0" fill="#FFF5F0"/>
<rect x="424.53" y="459.56" width="12.3" height="8.0" fill="#FFF5F0"/>
<rect x="438.27" y="459.56" width="12.3" height="8.0" fill="#FFF5F0"/>
<rect x="452.00" y="459.56" width="12.3" height="8.0" fill="#FFF5F0"/>
<rect x="465.74" y="459.56" width="12.3" height="8.0" fill="#FFF5F0"/>
<rect x="136.10" y="469.04" width="12.3" height="8.0" fill="#FFF5F0"/>
<rect x="149.83" y="469.04" width="12.3" height="8.0" fill="#FFF5F0"/>
<rect x="163.57" y="469.04" width="12.3" height="8.0" fill="#F06B4D"/>
<rect x="177.31" y="469.04" width="12.3" height="8.0" fill="#FFF5F0"/>
<rect x="191.04" y="469.04" width="12.3" height="8.0" fill="#FFF5F0"/>
<rect x="204.77" y="469.04" width="12.3" height="8.0" fill="#FFF5F0"/>
<rect x="218.51" y="469.04" width="12.3" height="8.0" fill="#FFF5F0"/>
<rect x="232.25" y="469.04" width="12.3" height="8.0" fill="#FFF5F0"/>
<rect x="245.98" y="469.04" width="12.3" height="8.0" fill="#FFF5F0"/>
<rect x="259.71" y="469.04" width="12.3" height="8.0" fill="#FFF5F0"/>
<rect x="273.45" y="469.04" width="12.3" height="8.0" fill="#FFF5F0"/>
<rect x="287.18" y="469.04" width="12.3" height="8.0" fill="#FFF5F0"/>
<rect x="300.92" y="469.04" width="12.3" height="8.0" fill="#FFF5F0"/>
<rect x="314.65" y="469.04" width="12.3" height="8.0" fill="#FFF5F0"/>
<rect x="328.39" y="469.04" width="12.3" height="8.0" fill="#FFF5F0"/>
<rect x="342.12" y="469.04" width="12.3" height="8.0" fill="#FFF5F0"/>
<rect x="355.86" y="469.04" width="12.3" height="8.0" fill="#FFF5F0"/>
<rect x="369.60" y="469.04" width="12.3" height="8.0" fill="#FFF5F0"/>
<rect x="383.33" y="469.04" width="12.3" height="8.0" fill="#FFF5F0"/>
<rect x="397.06" y="469.04" width="12.3" height="8.0" fill="#FFF5F0"/>
<rect x="410.80" y="469.04" width="12.3" height="8.0" fill="#FFF5F0"/>
<rect x="424.53" y="469.04" width="12.3" height="8.0" fill="#FFF5F0"/>
<rect x="438.27" y="469.04" width="12.3" height="8.0" fill="#FFF5F0"/>
<rect x="452.00" y="469.04" width="12.3" height="8.0" fill="#FFF5F0"/>
<rect x="465.74" y="469.04" width="12.3" height="8.0" fill="#FFF5F0"/>
<rect x="136.10" y="478.53" width="12.3" height="8.0" fill="#FFF5F0"/>
<rect x="149.83" y="478.53" width="12.3" height="8.0" fill="#FFF5F0"/>
<rect x="163.57" y="478.53" width="12.3" height="8.0" fill="#FFF5F0"/>
<rect x="177.31" y="478.53" width="12.3" height="8.0" fill="#FFF5F0"/>
<rect x="191.04" y="478.53" width="12.3" height="8.0" fill="#FFF5F0"/>
<rect x="204.77" y="478.53" width="12.3" height="8.0" fill="#FFF5F0"/>
<rect x="218.51" y="478.53" width="12.3" height="8.0" fill="#FFF5F0"/>
<rect x="232.25" y="478.53" width="12.3" height="8.0" fill="#FFF5F0"/>
<rect x="245.98" y="478.53" width="12.3" height="8.0" fill="#FFF5F0"/>
<rect x="259.71" y="478.53" width="12.3" height="8.0" fill="#FFF5F0"/>
<rect x="273.45" y="478.53" width="12.3" height="8.0" fill="#FFF5F0"/>
<rect x="287.18" y="478.53" width="12.3" height="8.0" fill="#FFF5F0"/>
<rect x="300.92" y="478.53" width="12.3" height="8.0" fill="#FFF5F0"/>
<rect x="314.65" y="478.53" width="12.3" height="8.0" fill="#FFF5F0"/>
<rect x="328.39" y="478.53" width="12.3" height="8.0" fill="#FFF5F0"/>
<rect x="342.12" y="478.53" width="12.3" height="8.0" fill="#FFF5F0"/>
<rect x="355.86" y="478.53" width="12.3" height="8.0" fill="#FFF5F0"/>
<rect x="369.60" y="478.53" width="12.3" height="8.0" fill="#FFF5F0"/>
<rect x="383.33" y="478.53" width="12.3" height="8.0" fill="#FFF5F0"/>
<rect x="397.06" y="478.53" width="12.3" height="8.0" fill="#FFF5F0"/>
<rect x="410.80" y="478.53" width="12.3" height="8.0" fill="#FFF5F0"/>
<rect x="424.53" y="478.53" width="12.3" height="8.0" fill="#FFF5F0"/>
<rect x="438.27" y="478.53" width="12.3" height="8.0" fill="#EE3E2F"/>
<rect x="452.00" y="478.53" width="12.3" height="8.0" fill="#FFF5F0"/>
<rect x="465.74" y="478.53" width="12.3" height="8.0" fill="#FFF5F0"/>
<rect x="136.10" y="488.01" width="12.3" height="8.0" fill="#FFF5F0"/>
<rect x="149.83" y="488.01" width="12.3" height="8.0" fill="#CA2027"/>
<rect x="163.57" y="488.01" width="12.3" height="8.0" fill="#FFF5F0"/>
<rect x="177.31" y="488.01" width="12.3" height="8.0" fill="#FFF5F0"/>
<rect x="191.04" y="488.01" width="12.3" height="8.0" fill="#FFF5F0"/>
<rect x="204.77" y="488.01" width="12.3" height="8.0" fill="#FFF5F0"/>
<rect x="218.51" y="488.01" width="12.3" height="8.0" fill="#FFF5F0"/>
<rect x="232.25" y="488.01" width="12.3" height="8.0" fill="#FFF5F0"/>
<rect x="245.98" y="488.01" width="12.3" height="8.0" fill="#FFF5F0"/>
<rect x="259.71" y="488.01" width="12.3" height="8.0" fill="#FFF5F0"/>
<rect x="273.45" y="488.01" width="12.3" height="8.0" fill="#FFF5F0"/>
<rect x="287.18" y="488.01" width="12.3" height="8.0" fill="#FFF5F0"/>
<rect x="300.92" y="488.01" width="12.3" height="8.0" fill="#FFF5F0"/>
<rect x="314.65" y="488.01" width="12.3" height="8.0" fill="#FFF5F0"/>
<rect x="328.39" y="488.01" width="12.3" height="8.0" fill="#FFF5F0"/>
<rect x="342.12" y="488.01" width="12.3" height="8.0" fill="#FFF5F0"/>
<rect x="355.86" y="488.01" width="12.3" height="8.0" fill="#FFF5F0"/>
<rect x="369.60" y="488.01" width="12.3" height="8.0" fill="#FFF5F0"/>
<rect x="383.33" y="488.01" width="12.3" height="8.0" fill="#FFF5F0"/>
<rect x="397.06" y="488.01" width="12.3" height="8.0" fill="#FFF5F0"/>
<rect x="410.80" y="488.01" width="12.3" height="8.0" fill="#FFF5F0"/>
<rect x="424.53" y="488.01" width="12.3" height="8.0" fill="#FFF5F0"/>
<rect x="438.27" y="488.01" width="12.3" height="8.0" fill="#FFF5F0"/>
<rect x="452.00" y="488.01" width="12.3" height="8.0" fill="#FFF5F0"/>
<rect x="465.74" y="488.01" width="12.3" height="8.0" fill="#FFF5F0"/>
<rect x="136.10" y="497.50" width="12.3" height="8.0" fill="#CA2027"/>
<rect x="149.83" y="497.50" width="12.3" height="8.0" fill="#FFF5F0"/>
<rect x="163.57" y="497.50" width="12.3" height="8.0" fill="#FFF5F0"/>
<rect x="177.31" y="497.50" width="12.3" height="8.0" fill="#FFF5F0"/>
<rect x="191.04" y="497.50" width="12.3" height="8.0" fill="#FFF5F0"/>
<rect x="204.77" y="497.50" width="12.3" height="8.0" fill="#FFF5F0"/>
<rect x="218.51" y="497.50" width="12.3" height="8.0" fill="#FFF5F0"/>
<rect x="232.25" y="497.50" width="12.3" height="8.0" fill="#FFF5F0"/>
<rect x="245.98" y="497.50" width="12.3" height="8.0" fill="#FFF5F0"/>
<rect x="259.71" y="497.50" width="12.3" height="8.0" fill="#FFF5F0"/>
<rect x="273.45" y="497.50" width="12.3" height="8.0" fill="#FFF5F0"/>
<rect x="287.18" y="497.50" width="12.3" height="8.0" fill="#FFF5F0"/>
<rect x="300.92" y="497.50" width="12.3" height="8.0" fill="#FFF5F0"/>
<rect x="314.65" y="497.50" width="12.3" height="8.0" fill="#FFF5F0"/>
<rect x="328.39" y="497.50" width="12.3" height="8.0" fill="#FFF5F0"/>
<rect x="342.12" y="497.50" width="12.3" height="8.0" fill="#FFF5F0"/>
<rect x="355.86" y="497.50" width="12.3" height="8.0" fill="#FFF5F0"/>
<rect x="369.60" y="497.50" width="12.3" height="8.0" fill="#FFF5F0"/>
<rect x="383.33" y="497.50" width="12.3" height="8.0" fill="#FFF5F0"/>
<rect x="397.06" y="497.50" width="12.3" height="8.0" fill="#FFF5F0"/>
<rect x="410.80" y="497.50" width="12.3" height="8.0" fill="#FFF5F0"/>
<rect x="424.53" y="497.50" width="12.3" height="8.0" fill="#FFF5F0"/>
<rect x="438.27" y="497.50" width="12.3" height="8.0" fill="#FFF5F0"/>
<rect x="452.00" y="497.50" width="12.3" height="8.0" fill="#FFF5F0"/>
<rect x="465.74" y="497.50" width="12.3" height="8.0" fill="#FFF5F0"/>
<rect x="486.0" y="118.10" width="9.2" height="8.0" fill="#4DAF4A"/>
<rect x="486.0" y="127.58" width="9.2" height="8.0" fill="#377EB8"/>
<rect x="486.0" y="137.07" width="9.2" height="8.0" fill="#377EB8"/>
<rect x="486.0" y="146.56" width="9.2" height="8.0" fill="#E41A1C"/>
<rect x="486.0" y="156.04" width="9.2" height="8.0" fill="#4DAF4A"/>
<rect x="486.0" y="165.52" width="9.2" height="8.0" fill="#E41A1C"/>
<rect x="486.0" y="175.01" width="9.2" height="8.0" fill="#E41A1C"/>
<rect x="486.0" y="184.50" width="9.2" height="8.0" fill="#E41A1C"/>
<rect x="486.0" y="193.98" width="9.2" height="8.0" fill="#E41A1C"/>
<rect x="486.0" y="203.46" width="9.2" height="8.0" fill="#E41A1C"/>
<rect x="486.0" y="212.95" width="9.2" height="8.0" fill="#377EB8"/>
<rect x="486.0" y="222.44" width="9.2" height="8.0" fill="#E41A1C"/>
<rect x="486.0" y="231.92" width="9.2" height="8.0" fill="#E41A1C"/>
<rect x="486.0" y="241.40" width="9.2" height="8.0" fill="#E41A1C"/>
<rect x="486.0" y="250.89" width="9.2" height="8.0" fill="#E41A1C"/>
<rect x="486.0" y="260.38" width="9.2" height="8.0" fill="#377EB8"/>
<rect x="486.0" y="269.86" width="9.2" height="8.0" fill="#4DAF4A"/>
<rect x="486.0" y="279.35" width="9.2" height="8.0" fill="#E41A1C"/>
<rect x="486.0" y="288.83" width="9.2" height="8.0" fill="#E41A1C"/>
<rect x="486.0" y="298.31" width="9.2" height="8.0" fill="#E41A1C"/>
<rect x="486.0" y="307.80" width="9.2" height="8.0" fill="#377EB8"/>
<rect x="486.0" y="317.28" width="9.2" height="8.0" fill="#E41A1C"/>
<rect x="486.0" y="326.77" width="9.2" height="8.0" fill="#E41A1C"/>
<rect x="486.0" y="336.25" width="9.2" height="8.0" fill="#E41A1C"/>
<rect x="486.0" y="345.74" width="9.2" height="8.0" fill="#E41A1C"/>
<rect x="486.0" y="355.23" width="9.2" height="8.0" fill="#E41A1C"/>
<rect x="486.0" y="364.71" width="9.2" height="8.0" fill="#E41A1C"/>
<rect x="486.0" y="374.19" width="9.2" height="8.0" fill="#E41A1C"/>
<rect x="486.0" y="383.68" width="9.2" height="8.0" fill="#E41A1C"/>
<rect x="486.0" y="393.16" width="9.2" height="8.0" fill="#E41A1C"/>
<rect x="486.0" y="402.65" width="9.2" height="8.0" fill="#E41A1C"/>
<rect x="486.0" y="412.13" width="9.2" height="8.0" fill="#E41A1C"/>
<rect x="486.0" y="421.62" width="9.2" height="8.0" fill="#E41A1C"/>
<rect x="486.0" y="431.11" width="9.2" height="8.0" fill="#E41A1C"/>
<rect x="486.0" y="440.59" width="9.2" height="8.0" fill="#E41A1C"/>
<rect x="486.0" y="450.07" width="9.2" height="8.0" fill="#E41A1C"/>
<rect x="486.0" y="459.56" width="9.2" height="8.0" fill="#E41A1C"/>
<rect x="486.0" y="469.04" width="9.2" height="8.0" fill="#E41A1C"/>
<rect x="486.0" y="478.53" width="9.2" height="8.0" fill="#E41A1C"/>
<rect x="486.0" y="488.01" width="9.2" height="8.0" fill="#E41A1C"/>
<rect x="486.0" y="497.50" width="9.2" height="8.0" fill="#E41A1C"/>
<text x="498.0" y="124.70" font-size="7.0" fill="#231F20" textLength="16.8" lengthAdjust="spacingAndGlyphs">STAT2</text>
<text x="498.0" y="134.18" font-size="7.0" fill="#231F20" textLength="128.8" lengthAdjust="spacingAndGlyphs">HALLMARK_INTERFERON_ALPHA_RESPONSE</text>
<text x="498.0" y="143.67" font-size="7.0" fill="#231F20" textLength="132.5" lengthAdjust="spacingAndGlyphs">HALLMARK_INTERFERON_GAMMA_RESPONSE</text>
<text x="498.0" y="153.16" font-size="7.0" fill="#231F20" textLength="55.2" lengthAdjust="spacingAndGlyphs">DC.M1.2: Interferon</text>
<text x="498.0" y="162.64" font-size="7.0" fill="#231F20" textLength="15.8" lengthAdjust="spacingAndGlyphs">STAT1</text>
<text x="498.0" y="172.12" font-size="7.0" fill="#231F20" textLength="55.2" lengthAdjust="spacingAndGlyphs">DC.M3.4: Interferon</text>
<text x="498.0" y="181.61" font-size="7.0" fill="#231F20" textLength="69.1" lengthAdjust="spacingAndGlyphs">DC.M4.4: Undetermined</text>
<text x="498.0" y="191.09" font-size="7.0" fill="#231F20" textLength="62.2" lengthAdjust="spacingAndGlyphs">DC.M3.1: Erythrocytes</text>
<text x="498.0" y="200.58" font-size="7.0" fill="#231F20" textLength="69.1" lengthAdjust="spacingAndGlyphs">DC.M5.3: Undetermined</text>
<text x="498.0" y="210.06" font-size="7.0" fill="#231F20" textLength="69.1" lengthAdjust="spacingAndGlyphs">DC.M9.3: Undetermined</text>
<text x="498.0" y="219.55" font-size="7.0" fill="#231F20" textLength="98.8" lengthAdjust="spacingAndGlyphs">HALLMARK_KRAS_SIGNALING_DN</text>
<text x="498.0" y="229.03" font-size="7.0" fill="#231F20" textLength="86.3" lengthAdjust="spacingAndGlyphs">LI.S1: NK cell surface signature</text>
<text x="498.0" y="238.52" font-size="7.0" fill="#231F20" textLength="41.4" lengthAdjust="spacingAndGlyphs">LI.M114.0: TBA</text>
<text x="498.0" y="248.00" font-size="7.0" fill="#231F20" textLength="186.5" lengthAdjust="spacingAndGlyphs">LI.M5.0: regulation of antigen presentation and immune response</text>
<text x="498.0" y="257.49" font-size="7.0" font-weight="bold" style="stroke-width:0.12px" fill="#231F20" textLength="65.0" lengthAdjust="spacingAndGlyphs">DC.M4.2: Inflammation</text>
<text x="498.0" y="266.98" font-size="7.0" fill="#231F20" textLength="117.1" lengthAdjust="spacingAndGlyphs">HALLMARK_ESTROGEN_RESPONSE_LATE</text>
<text x="498.0" y="276.46" font-size="7.0" fill="#231F20" textLength="17.8" lengthAdjust="spacingAndGlyphs">SUZ12</text>
<text x="498.0" y="285.95" font-size="7.0" fill="#231F20" textLength="71.9" lengthAdjust="spacingAndGlyphs">DC.M6.14: Undetermined</text>
<text x="498.0" y="295.43" font-size="7.0" fill="#231F20" textLength="152.9" lengthAdjust="spacingAndGlyphs">LI.M30: cell movement, Adhesion &amp; Platelet activation</text>
<text x="498.0" y="304.91" font-size="7.0" fill="#231F20" textLength="137.9" lengthAdjust="spacingAndGlyphs">LI.M81: enriched in myeloid cells and monocytes</text>
<text x="498.0" y="314.40" font-size="7.0" fill="#231F20" textLength="94.1" lengthAdjust="spacingAndGlyphs">HALLMARK_HEME_METABOLISM</text>
<text x="498.0" y="323.88" font-size="7.0" fill="#231F20" textLength="62.2" lengthAdjust="spacingAndGlyphs">DC.M2.3: Erythrocytes</text>
<text x="498.0" y="333.37" font-size="7.0" fill="#231F20" textLength="100.2" lengthAdjust="spacingAndGlyphs">LI.M11.0: enriched in monocytes (II)</text>
<text x="498.0" y="342.86" font-size="7.0" fill="#231F20" textLength="62.2" lengthAdjust="spacingAndGlyphs">DC.M4.14: Monocytes</text>
<text x="498.0" y="352.34" font-size="7.0" fill="#231F20" textLength="98.8" lengthAdjust="spacingAndGlyphs">LI.M4.0: cell cycle and transcription</text>
<text x="498.0" y="361.83" font-size="7.0" fill="#231F20" textLength="76.6" lengthAdjust="spacingAndGlyphs">DC.M3.6: Cytotoxic/NK Cell</text>
<text x="498.0" y="371.31" font-size="7.0" fill="#231F20" textLength="76.1" lengthAdjust="spacingAndGlyphs">LI.M7.3: T cell activation (II)</text>
<text x="498.0" y="380.79" font-size="7.0" fill="#231F20" textLength="81.1" lengthAdjust="spacingAndGlyphs">LI.M7.0: enriched in T cells (I)</text>
<text x="498.0" y="390.28" font-size="7.0" fill="#231F20" textLength="74.7" lengthAdjust="spacingAndGlyphs">LI.M7.1: T cell activation (I)</text>
<text x="498.0" y="399.76" font-size="7.0" fill="#231F20" textLength="86.3" lengthAdjust="spacingAndGlyphs">LI.M7.2: enriched in NK cells (I)</text>
<text x="498.0" y="409.25" font-size="7.0" fill="#231F20" textLength="95.5" lengthAdjust="spacingAndGlyphs">LI.S4: Monocyte surface signature</text>
<text x="498.0" y="418.74" font-size="7.0" fill="#231F20" textLength="84.4" lengthAdjust="spacingAndGlyphs">LI.M75: antiviral IFN signature</text>
<text x="498.0" y="428.22" font-size="7.0" fill="#231F20" textLength="134.9" lengthAdjust="spacingAndGlyphs">LI.M165: enriched in activated dendritic cells (II)</text>
<text x="498.0" y="437.71" font-size="7.0" fill="#231F20" textLength="81.6" lengthAdjust="spacingAndGlyphs">LI.S2: B cell surface signature</text>
<text x="498.0" y="447.19" font-size="7.0" fill="#231F20" textLength="87.2" lengthAdjust="spacingAndGlyphs">LI.M47.1: enriched in B cells (II)</text>
<text x="498.0" y="456.67" font-size="7.0" fill="#231F20" textLength="84.4" lengthAdjust="spacingAndGlyphs">LI.M69: enriched in B cells (VI)</text>
<text x="498.0" y="466.16" font-size="7.0" fill="#231F20" textLength="45.5" lengthAdjust="spacingAndGlyphs">DC.M4.10: B cell</text>
<text x="498.0" y="475.64" font-size="7.0" fill="#231F20" textLength="85.2" lengthAdjust="spacingAndGlyphs">LI.M47.0: enriched in B cells (I)</text>
<text x="498.0" y="485.13" font-size="7.0" fill="#231F20" textLength="59.4" lengthAdjust="spacingAndGlyphs">DC.M5.12: Interferon</text>
<text x="498.0" y="494.62" font-size="7.0" fill="#231F20" textLength="72.5" lengthAdjust="spacingAndGlyphs">DC.M7.13: Undetermined</text>
<text x="498.0" y="504.10" font-size="7.0" fill="#231F20" textLength="51.1" lengthAdjust="spacingAndGlyphs">DC.M1.1: Platelets</text>
<rect x="135.0" y="510.00" width="343.57" height="8.20" fill="#F4F4F4"/>
<rect x="136.10" y="510.8" width="12.3" height="6.6" fill="#F47F20"/>
<rect x="149.83" y="510.8" width="12.3" height="6.6" fill="#F47F20"/>
<rect x="163.57" y="510.8" width="12.3" height="6.6" fill="#F47F20"/>
<rect x="177.31" y="510.8" width="12.3" height="6.6" fill="#F47F20"/>
<rect x="191.04" y="510.8" width="12.3" height="6.6" fill="#F47F20"/>
<rect x="204.77" y="510.8" width="12.3" height="6.6" fill="#F47F20"/>
<rect x="218.51" y="510.8" width="12.3" height="6.6" fill="#F47F20"/>
<rect x="232.25" y="510.8" width="12.3" height="6.6" fill="#F47F20"/>
<rect x="245.98" y="510.8" width="12.3" height="6.6" fill="#F5E937"/>
<rect x="259.71" y="510.8" width="12.3" height="6.6" fill="#F47F20"/>
<rect x="273.45" y="510.8" width="12.3" height="6.6" fill="#F47F20"/>
<rect x="287.18" y="510.8" width="12.3" height="6.6" fill="#F47F20"/>
<rect x="300.92" y="510.8" width="12.3" height="6.6" fill="#F47F20"/>
<rect x="314.65" y="510.8" width="12.3" height="6.6" fill="#F47F20"/>
<rect x="328.39" y="510.8" width="12.3" height="6.6" fill="#F5E937"/>
<rect x="342.12" y="510.8" width="12.3" height="6.6" fill="#F5E937"/>
<rect x="355.86" y="510.8" width="12.3" height="6.6" fill="#F47F20"/>
<rect x="369.60" y="510.8" width="12.3" height="6.6" fill="#F47F20"/>
<rect x="383.33" y="510.8" width="12.3" height="6.6" fill="#F47F20"/>
<rect x="397.06" y="510.8" width="12.3" height="6.6" fill="#F47F20"/>
<rect x="410.80" y="510.8" width="12.3" height="6.6" fill="#F47F20"/>
<rect x="424.53" y="510.8" width="12.3" height="6.6" fill="#F47F20"/>
<rect x="438.27" y="510.8" width="12.3" height="6.6" fill="#F47F20"/>
<rect x="452.00" y="510.8" width="12.3" height="6.6" fill="#F47F20"/>
<rect x="465.74" y="510.8" width="12.3" height="6.6" fill="#F47F20"/>
<text transform="translate(144.95,523.5) rotate(-90)" font-size="6.8" text-anchor="end" fill="#231F20" textLength="33.8" lengthAdjust="spacingAndGlyphs">EXHI_7_10</text>
<text transform="translate(158.68,523.5) rotate(-90)" font-size="6.8" text-anchor="end" fill="#231F20" textLength="38.1" lengthAdjust="spacingAndGlyphs">EXHI_77_19</text>
<text transform="translate(172.42,523.5) rotate(-90)" font-size="6.8" text-anchor="end" fill="#231F20" textLength="38.1" lengthAdjust="spacingAndGlyphs">EXHI_328_5</text>
<text transform="translate(186.16,523.5) rotate(-90)" font-size="6.8" text-anchor="end" fill="#231F20" textLength="38.1" lengthAdjust="spacingAndGlyphs">EXHI_315_3</text>
<text transform="translate(199.89,523.5) rotate(-90)" font-size="6.8" text-anchor="end" fill="#231F20" textLength="42.4" lengthAdjust="spacingAndGlyphs">EXHI_1086_3</text>
<text transform="translate(213.62,523.5) rotate(-90)" font-size="6.8" text-anchor="end" fill="#231F20" textLength="42.4" lengthAdjust="spacingAndGlyphs">EXHI_190_11</text>
<text transform="translate(227.36,523.5) rotate(-90)" font-size="6.8" text-anchor="end" fill="#231F20" textLength="33.8" lengthAdjust="spacingAndGlyphs">EXHI_71_6</text>
<text transform="translate(241.09,523.5) rotate(-90)" font-size="6.8" text-anchor="end" fill="#231F20" textLength="38.1" lengthAdjust="spacingAndGlyphs">EXHI_985_2</text>
<text transform="translate(254.83,523.5) rotate(-90)" font-size="6.8" text-anchor="end" fill="#231F20" textLength="46.2" lengthAdjust="spacingAndGlyphs">EXMC_1037_3</text>
<text transform="translate(268.56,523.5) rotate(-90)" font-size="6.8" text-anchor="end" fill="#231F20" textLength="42.4" lengthAdjust="spacingAndGlyphs">EXHI_1534_2</text>
<text transform="translate(282.30,523.5) rotate(-90)" font-size="6.8" text-anchor="end" fill="#231F20" textLength="38.1" lengthAdjust="spacingAndGlyphs">EXHI_874_2</text>
<text transform="translate(296.03,523.5) rotate(-90)" font-size="6.8" text-anchor="end" fill="#231F20" textLength="38.1" lengthAdjust="spacingAndGlyphs">EXHI_895_4</text>
<text transform="translate(309.77,523.5) rotate(-90)" font-size="6.8" text-anchor="end" fill="#231F20" textLength="42.4" lengthAdjust="spacingAndGlyphs">EXHI_1937_2</text>
<text transform="translate(323.50,523.5) rotate(-90)" font-size="6.8" text-anchor="end" fill="#231F20" textLength="38.1" lengthAdjust="spacingAndGlyphs">EXHI_418_2</text>
<text transform="translate(337.24,523.5) rotate(-90)" font-size="6.8" text-anchor="end" fill="#231F20" textLength="41.9" lengthAdjust="spacingAndGlyphs">EXMC_434_2</text>
<text transform="translate(350.97,523.5) rotate(-90)" font-size="6.8" text-anchor="end" fill="#231F20" textLength="41.9" lengthAdjust="spacingAndGlyphs">EXMC_189_9</text>
<text transform="translate(364.71,523.5) rotate(-90)" font-size="6.8" text-anchor="end" fill="#231F20" textLength="38.1" lengthAdjust="spacingAndGlyphs">EXHI_918_2</text>
<text transform="translate(378.44,523.5) rotate(-90)" font-size="6.8" text-anchor="end" fill="#231F20" textLength="38.1" lengthAdjust="spacingAndGlyphs">EXHI_205_4</text>
<text transform="translate(392.18,523.5) rotate(-90)" font-size="6.8" text-anchor="end" fill="#231F20" textLength="38.1" lengthAdjust="spacingAndGlyphs">EXHI_108_4</text>
<text transform="translate(405.91,523.5) rotate(-90)" font-size="6.8" text-anchor="end" fill="#231F20" textLength="38.1" lengthAdjust="spacingAndGlyphs">EXHI_655_3</text>
<text transform="translate(419.65,523.5) rotate(-90)" font-size="6.8" text-anchor="end" fill="#231F20" textLength="38.1" lengthAdjust="spacingAndGlyphs">EXHI_899_5</text>
<text transform="translate(433.38,523.5) rotate(-90)" font-size="6.8" text-anchor="end" fill="#231F20" textLength="38.1" lengthAdjust="spacingAndGlyphs">EXHI_541_7</text>
<text transform="translate(447.12,523.5) rotate(-90)" font-size="6.8" text-anchor="end" fill="#231F20" textLength="38.1" lengthAdjust="spacingAndGlyphs">EXHI_619_7</text>
<text transform="translate(460.85,523.5) rotate(-90)" font-size="6.8" text-anchor="end" fill="#231F20" textLength="38.1" lengthAdjust="spacingAndGlyphs">EXHI_539_7</text>
<text transform="translate(474.59,523.5) rotate(-90)" font-size="6.8" text-anchor="end" fill="#231F20" textLength="38.1" lengthAdjust="spacingAndGlyphs">EXHI_98_14</text>
<text x="29" y="540.1" font-size="10" font-weight="bold" fill="#231F20" textLength="100.8" lengthAdjust="spacingAndGlyphs">Gene communities</text>
<text x="491.7" y="8.9" font-size="11.3" font-weight="bold" fill="#231F20" textLength="119" lengthAdjust="spacingAndGlyphs">Annotation databases</text>
<rect x="493.6" y="16.70" width="6.0" height="4.3" fill="#E41A1C" stroke="#333" stroke-width="0.8"/>
<text x="506.8" y="21.6" font-size="9.4" fill="#231F20" textLength="132.0" lengthAdjust="spacingAndGlyphs">Blood transcription modules (BTM)</text>
<rect x="493.6" y="25.70" width="6.0" height="4.3" fill="#377EB8" stroke="#333" stroke-width="0.8"/>
<text x="506.8" y="30.6" font-size="9.4" fill="#231F20" textLength="147.6" lengthAdjust="spacingAndGlyphs">Hallmark biological functions (MSigDB)</text>
<rect x="493.6" y="34.10" width="6.0" height="4.3" fill="#4DAF4A" stroke="#333" stroke-width="0.8"/>
<text x="506.8" y="39.0" font-size="9.4" fill="#231F20" textLength="100.1" lengthAdjust="spacingAndGlyphs">Transcription factors (ENCODE)</text>
<rect x="493.6" y="42.70" width="6.0" height="4.3" fill="#984EA3" stroke="#333" stroke-width="0.8"/>
<text x="506.8" y="47.6" font-size="9.4" fill="#231F20" textLength="92.2" lengthAdjust="spacingAndGlyphs">MicroRNAs (miRTarBase)</text>
<text x="491.4" y="63.6" font-size="11.3" font-weight="bold" fill="#231F20" textLength="89.5" lengthAdjust="spacingAndGlyphs">COPD conditions</text>
<rect x="493.6" y="70.1" width="6.0" height="4.3" fill="#F47F20" stroke="#333" stroke-width="0.8"/>
<rect x="493.6" y="78.7" width="6.0" height="4.3" fill="#F5E937" stroke="#333" stroke-width="0.8"/>
<text x="506" y="75.1" font-size="9.0" fill="#231F20" textLength="179" lengthAdjust="spacingAndGlyphs">Exacerbation with <tspan font-style="italic">H. influaenzae</tspan> infection</text>
<text x="506" y="83.6" font-size="9.0" fill="#231F20" textLength="176.8" lengthAdjust="spacingAndGlyphs">Exacerbation with <tspan font-style="italic">M. catarrhalis</tspan> infection</text>
<text x="497.6" y="108.5" font-size="11.3" font-weight="bold" fill="#231F20" textLength="106.8" lengthAdjust="spacingAndGlyphs">Biological functions</text>
<path d="M296.89,8.40L156.22,8.40 M156.22,8.40L156.22,30.40 M296.89,8.40L437.55,8.40 M437.55,8.40L437.55,32.20 M156.22,30.40L142.25,30.40 M142.25,30.40L142.25,113.75 M156.22,30.40L170.20,30.40 M170.20,30.40L170.20,36.20 M170.20,36.20L155.98,36.20 M155.98,36.20L155.98,113.75 M170.20,36.20L184.41,36.20 M184.41,36.20L184.41,47.40 M184.41,47.40L169.72,47.40 M169.72,47.40L169.72,113.75 M184.41,47.40L199.11,47.40 M199.11,47.40L199.11,64.40 M199.11,64.40L183.46,64.40 M183.46,64.40L183.46,113.75 M199.11,64.40L214.76,64.40 M214.76,64.40L214.76,76.00 M214.76,76.00L197.19,76.00 M197.19,76.00L197.19,113.75 M214.76,76.00L232.33,76.00 M232.33,76.00L232.33,80.60 M232.33,80.60L210.92,80.60 M210.92,80.60L210.92,113.75 M232.33,80.60L253.74,80.60 M253.74,80.60L253.74,83.60 M253.74,83.60L224.66,83.60 M224.66,83.60L224.66,113.75 M253.74,83.60L282.82,83.60 M282.82,83.60L282.82,85.60 M282.82,85.60L248.70,85.60 M248.70,85.60L248.70,101.60 M282.82,85.60L316.94,85.60 M316.94,85.60L316.94,87.60 M248.70,101.60L238.40,101.60 M238.40,101.60L238.40,113.75 M248.70,101.60L259.00,101.60 M259.00,101.60L259.00,110.00 M259.00,110.00L252.13,110.00 M252.13,110.00L252.13,113.75 M259.00,110.00L265.86,110.00 M265.86,110.00L265.86,113.75 M316.94,87.60L289.90,87.60 M289.90,87.60L289.90,97.60 M316.94,87.60L343.98,87.60 M343.98,87.60L343.98,89.40 M289.90,97.60L279.60,97.60 M279.60,97.60L279.60,113.75 M289.90,97.60L300.20,97.60 M300.20,97.60L300.20,108.40 M300.20,108.40L293.33,108.40 M293.33,108.40L293.33,113.75 M300.20,108.40L307.07,108.40 M307.07,108.40L307.07,113.75 M343.98,89.40L327.67,89.40 M327.67,89.40L327.67,113.40 M343.98,89.40L360.29,89.40 M360.29,89.40L360.29,90.60 M327.67,113.40L320.80,113.40 M320.80,113.40L320.80,113.75 M327.67,113.40L334.54,113.40 M334.54,113.40L334.54,113.75 M360.29,90.60L348.27,90.60 M348.27,90.60L348.27,113.75 M360.29,90.60L372.31,90.60 M372.31,90.60L372.31,93.20 M372.31,93.20L362.01,93.20 M362.01,93.20L362.01,113.75 M372.31,93.20L382.61,93.20 M382.61,93.20L382.61,113.20 M382.61,113.20L375.75,113.20 M375.75,113.20L375.75,113.75 M382.61,113.20L389.48,113.20 M389.48,113.20L389.48,113.75 M437.55,32.20L420.38,32.20 M420.38,32.20L420.38,62.80 M437.55,32.20L454.72,32.20 M454.72,32.20L454.72,44.80 M420.38,62.80L410.08,62.80 M410.08,62.80L410.08,94.60 M420.38,62.80L430.68,62.80 M430.68,62.80L430.68,113.75 M410.08,94.60L403.21,94.60 M403.21,94.60L403.21,113.75 M410.08,94.60L416.95,94.60 M416.95,94.60L416.95,113.75 M454.72,44.80L444.42,44.80 M444.42,44.80L444.42,113.75 M454.72,44.80L465.02,44.80 M465.02,44.80L465.02,66.40 M465.02,66.40L458.15,66.40 M458.15,66.40L458.15,113.75 M465.02,66.40L471.89,66.40 M471.89,66.40L471.89,113.75 M0.60,322.49L0.60,157.08 M0.60,157.08L9.60,157.08 M0.60,322.49L0.60,487.91 M0.60,487.91L25.40,487.91 M85.40,126.84L85.40,122.10 M85.40,122.10L130.50,122.10 M85.40,126.84L85.40,131.58 M85.40,131.58L130.50,131.58 M84.40,133.96L84.40,126.84 M84.40,126.84L85.40,126.84 M84.40,133.96L84.40,141.07 M84.40,141.07L130.50,141.07 M67.40,155.30L67.40,150.56 M67.40,150.56L130.50,150.56 M67.40,155.30L67.40,160.04 M67.40,160.04L130.50,160.04 M65.00,144.63L65.00,133.96 M65.00,133.96L84.40,133.96 M65.00,144.63L65.00,155.30 M65.00,155.30L67.40,155.30 M9.60,157.08L9.60,144.63 M9.60,144.63L65.00,144.63 M9.60,157.08L9.60,169.52 M9.60,169.52L130.50,169.52 M130.20,183.75L130.20,179.01 M130.20,179.01L130.50,179.01 M130.20,183.75L130.20,188.50 M130.20,188.50L130.50,188.50 M124.80,190.87L124.80,183.75 M124.80,183.75L130.20,183.75 M124.80,190.87L124.80,197.98 M124.80,197.98L130.50,197.98 M108.00,212.21L108.00,207.46 M108.00,207.46L130.50,207.46 M108.00,212.21L108.00,216.95 M108.00,216.95L130.50,216.95 M103.30,201.54L103.30,190.87 M103.30,190.87L124.80,190.87 M103.30,201.54L103.30,212.21 M103.30,212.21L108.00,212.21 M130.20,231.18L130.20,226.44 M130.20,226.44L130.50,226.44 M130.20,231.18L130.20,235.92 M130.20,235.92L130.50,235.92 M99.60,216.36L99.60,201.54 M99.60,201.54L103.30,201.54 M99.60,216.36L99.60,231.18 M99.60,231.18L130.20,231.18 M99.00,230.88L99.00,216.36 M99.00,216.36L99.60,216.36 M99.00,230.88L99.00,245.40 M99.00,245.40L130.50,245.40 M97.80,242.89L97.80,230.88 M97.80,230.88L99.00,230.88 M97.80,242.89L97.80,254.89 M97.80,254.89L130.50,254.89 M120.30,269.12L120.30,264.38 M120.30,264.38L130.50,264.38 M120.30,269.12L120.30,273.86 M120.30,273.86L130.50,273.86 M94.60,256.00L94.60,242.89 M94.60,242.89L97.80,242.89 M94.60,256.00L94.60,269.12 M94.60,269.12L120.30,269.12 M130.20,288.09L130.20,283.35 M130.20,283.35L130.50,283.35 M130.20,288.09L130.20,292.83 M130.20,292.83L130.50,292.83 M124.00,295.20L124.00,288.09 M124.00,288.09L130.20,288.09 M124.00,295.20L124.00,302.31 M124.00,302.31L130.50,302.31 M92.00,275.60L92.00,256.00 M92.00,256.00L94.60,256.00 M92.00,275.60L92.00,295.20 M92.00,295.20L124.00,295.20 M113.40,316.54L113.40,311.80 M113.40,311.80L130.50,311.80 M113.40,316.54L113.40,321.28 M113.40,321.28L130.50,321.28 M91.20,296.07L91.20,275.60 M91.20,275.60L92.00,275.60 M91.20,296.07L91.20,316.54 M91.20,316.54L113.40,316.54 M125.30,335.51L125.30,330.77 M125.30,330.77L130.50,330.77 M125.30,335.51L125.30,340.25 M125.30,340.25L130.50,340.25 M116.60,342.63L116.60,335.51 M116.60,335.51L125.30,335.51 M116.60,342.63L116.60,349.74 M116.60,349.74L130.50,349.74 M90.00,319.35L90.00,296.07 M90.00,296.07L91.20,296.07 M90.00,319.35L90.00,342.63 M90.00,342.63L116.60,342.63 M129.90,363.97L129.90,359.23 M129.90,359.23L130.50,359.23 M129.90,363.97L129.90,368.71 M129.90,368.71L130.50,368.71 M129.90,382.94L129.90,378.19 M129.90,378.19L130.50,378.19 M129.90,382.94L129.90,387.68 M129.90,387.68L130.50,387.68 M129.60,373.45L129.60,363.97 M129.60,363.97L129.90,363.97 M129.60,373.45L129.60,382.94 M129.60,382.94L129.90,382.94 M113.40,385.31L113.40,373.45 M113.40,373.45L129.60,373.45 M113.40,385.31L113.40,397.16 M113.40,397.16L130.50,397.16 M89.00,352.33L89.00,319.35 M89.00,319.35L90.00,319.35 M89.00,352.33L89.00,385.31 M89.00,385.31L113.40,385.31 M84.20,379.49L84.20,352.33 M84.20,352.33L89.00,352.33 M84.20,379.49L84.20,406.65 M84.20,406.65L130.50,406.65 M112.40,420.88L112.40,416.13 M112.40,416.13L130.50,416.13 M112.40,420.88L112.40,425.62 M112.40,425.62L130.50,425.62 M78.00,400.18L78.00,379.49 M78.00,379.49L84.20,379.49 M78.00,400.18L78.00,420.88 M78.00,420.88L112.40,420.88 M130.20,439.85L130.20,435.11 M130.20,435.11L130.50,435.11 M130.20,439.85L130.20,444.59 M130.20,444.59L130.50,444.59 M128.00,458.82L128.00,454.07 M128.00,454.07L130.50,454.07 M128.00,458.82L128.00,463.56 M128.00,463.56L130.50,463.56 M119.40,449.33L119.40,439.85 M119.40,439.85L130.20,439.85 M119.40,449.33L119.40,458.82 M119.40,458.82L128.00,458.82 M107.40,461.19L107.40,449.33 M107.40,449.33L119.40,449.33 M107.40,461.19L107.40,473.04 M107.40,473.04L130.50,473.04 M70.00,430.69L70.00,400.18 M70.00,400.18L78.00,400.18 M70.00,430.69L70.00,461.19 M70.00,461.19L107.40,461.19 M64.40,456.61L64.40,430.69 M64.40,430.69L70.00,430.69 M64.40,456.61L64.40,482.53 M64.40,482.53L130.50,482.53 M43.40,474.31L43.40,456.61 M43.40,456.61L64.40,456.61 M43.40,474.31L43.40,492.01 M43.40,492.01L130.50,492.01 M25.40,487.91L25.40,474.31 M25.40,474.31L43.40,474.31 M25.40,487.91L25.40,501.50 M25.40,501.50L130.50,501.50" fill="none" stroke="#333333" stroke-width="0.9" stroke-linecap="square"/>
</svg>
</body></html>
